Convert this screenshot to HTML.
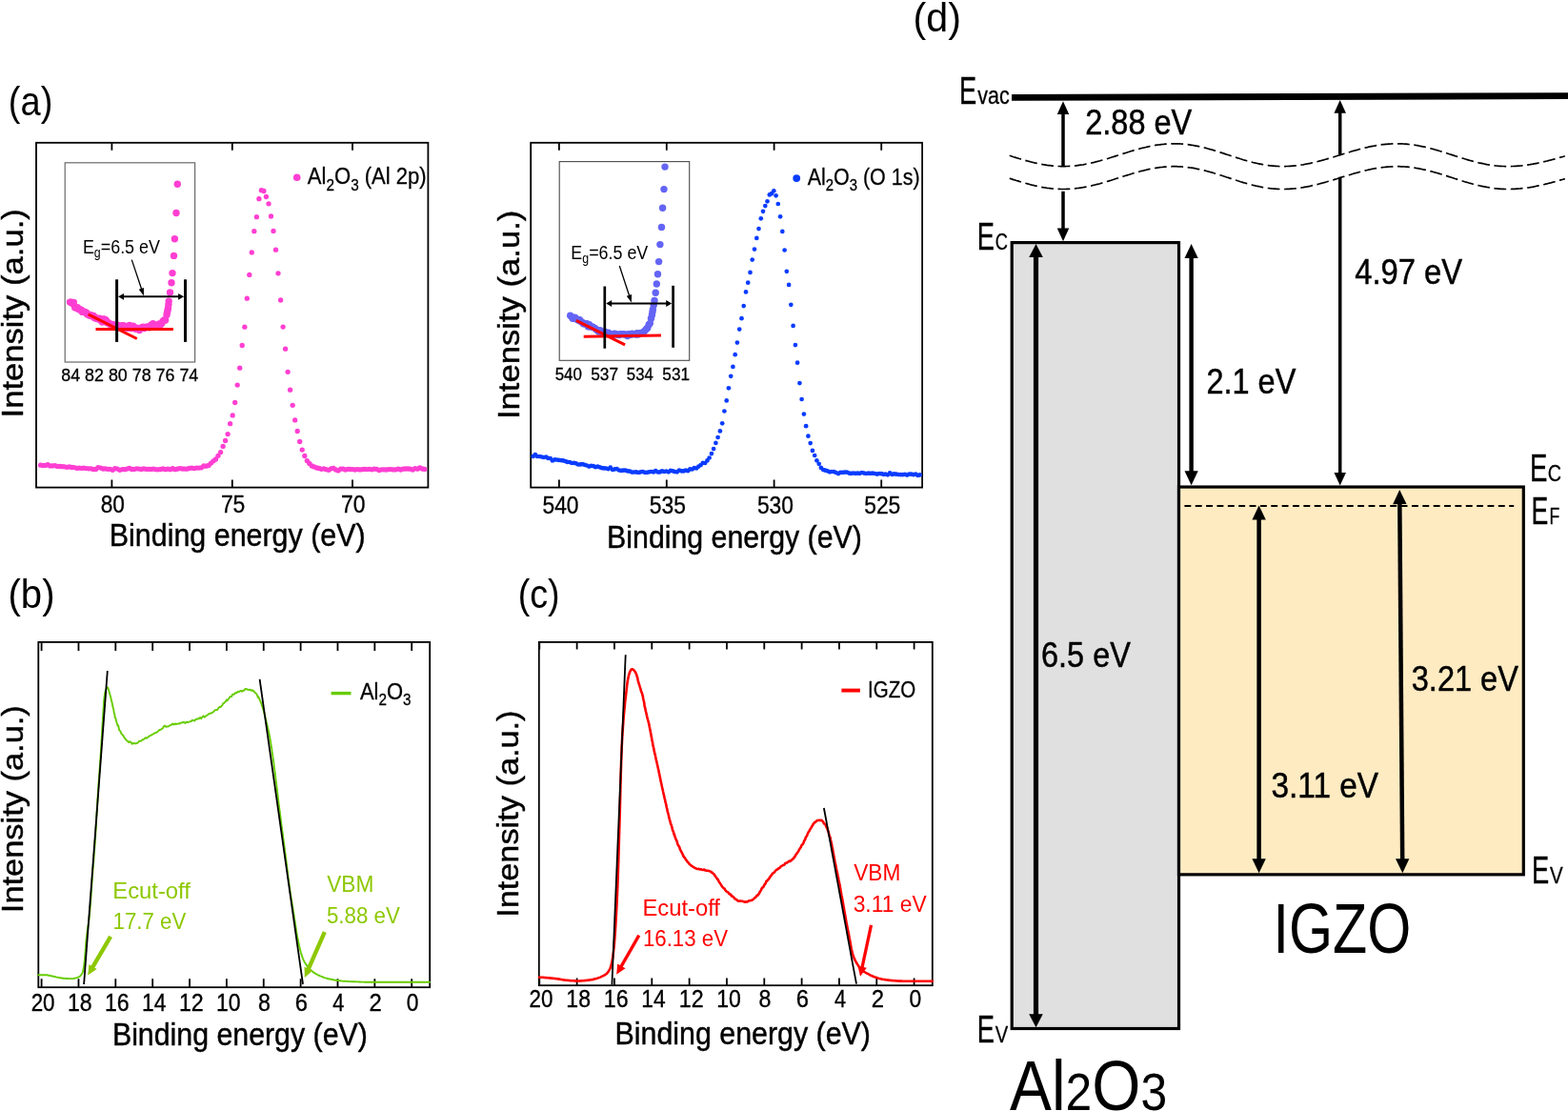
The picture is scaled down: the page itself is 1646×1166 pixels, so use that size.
<!DOCTYPE html>
<html lang="en">
<head>
<meta charset="utf-8">
<title>XPS, UPS and band alignment of Al2O3 / IGZO</title>
<style>html,body{margin:0;padding:0;background:#fff;overflow:hidden}svg{display:block}</style>
</head>
<body>
<svg width="1646" height="1166" viewBox="0 0 1646 1166" role="img" aria-label="XPS and UPS spectra with band alignment diagram" font-family="'Liberation Sans', sans-serif" style="display:block">
<rect width="1646" height="1166" fill="#fff"/>
<rect x="38.00" y="149.80" width="411.40" height="361.80" fill="none" stroke="#000" stroke-width="1.8"/>
<path d="M117.40 149.80v8M117.40 511.60v-8M243.80 149.80v8M243.80 511.60v-8M370.00 149.80v8M370.00 511.60v-8" stroke="#000" stroke-width="1.8" fill="none"/>
<g fill="#ff3fd2"><circle cx="42.6" cy="488.2" r="2.65"/><circle cx="45.1" cy="488.5" r="2.65"/><circle cx="47.6" cy="488.4" r="2.65"/><circle cx="50.1" cy="487.7" r="2.65"/><circle cx="52.6" cy="488.9" r="2.65"/><circle cx="55.2" cy="488.9" r="2.65"/><circle cx="57.7" cy="488.6" r="2.65"/><circle cx="60.2" cy="489.4" r="2.65"/><circle cx="62.7" cy="489.5" r="2.65"/><circle cx="65.2" cy="489.7" r="2.65"/><circle cx="67.8" cy="489.8" r="2.65"/><circle cx="70.3" cy="490.3" r="2.65"/><circle cx="72.8" cy="489.9" r="2.65"/><circle cx="75.3" cy="490.5" r="2.65"/><circle cx="77.8" cy="490.6" r="2.65"/><circle cx="80.4" cy="491.3" r="2.65"/><circle cx="82.9" cy="491.2" r="2.65"/><circle cx="85.4" cy="491.3" r="2.65"/><circle cx="87.9" cy="491.2" r="2.65"/><circle cx="90.4" cy="491.6" r="2.65"/><circle cx="93.0" cy="491.8" r="2.65"/><circle cx="95.5" cy="491.8" r="2.65"/><circle cx="98.0" cy="492.6" r="2.65"/><circle cx="100.5" cy="492.5" r="2.65"/><circle cx="103.0" cy="490.7" r="2.65"/><circle cx="105.6" cy="491.1" r="2.65"/><circle cx="108.1" cy="492.0" r="2.65"/><circle cx="110.6" cy="491.9" r="2.65"/><circle cx="113.1" cy="492.3" r="2.65"/><circle cx="115.6" cy="492.3" r="2.65"/><circle cx="118.2" cy="493.3" r="2.65"/><circle cx="120.7" cy="491.7" r="2.65"/><circle cx="123.2" cy="492.1" r="2.65"/><circle cx="125.7" cy="493.3" r="2.65"/><circle cx="128.2" cy="492.6" r="2.65"/><circle cx="130.8" cy="492.7" r="2.65"/><circle cx="133.3" cy="492.1" r="2.65"/><circle cx="135.8" cy="491.5" r="2.65"/><circle cx="138.3" cy="492.5" r="2.65"/><circle cx="140.8" cy="492.4" r="2.65"/><circle cx="143.4" cy="491.8" r="2.65"/><circle cx="145.9" cy="492.1" r="2.65"/><circle cx="148.4" cy="492.4" r="2.65"/><circle cx="150.9" cy="491.9" r="2.65"/><circle cx="153.4" cy="492.3" r="2.65"/><circle cx="156.0" cy="492.4" r="2.65"/><circle cx="158.5" cy="492.4" r="2.65"/><circle cx="161.0" cy="492.1" r="2.65"/><circle cx="163.5" cy="492.7" r="2.65"/><circle cx="166.0" cy="492.8" r="2.65"/><circle cx="168.6" cy="492.5" r="2.65"/><circle cx="171.1" cy="491.9" r="2.65"/><circle cx="173.6" cy="492.7" r="2.65"/><circle cx="176.1" cy="492.1" r="2.65"/><circle cx="178.6" cy="492.7" r="2.65"/><circle cx="181.2" cy="491.7" r="2.65"/><circle cx="183.7" cy="492.7" r="2.65"/><circle cx="186.2" cy="492.2" r="2.65"/><circle cx="188.7" cy="491.6" r="2.65"/><circle cx="191.2" cy="492.0" r="2.65"/><circle cx="193.8" cy="492.1" r="2.65"/><circle cx="196.3" cy="492.2" r="2.65"/><circle cx="198.8" cy="491.4" r="2.65"/><circle cx="201.3" cy="491.2" r="2.65"/><circle cx="203.8" cy="491.6" r="2.65"/><circle cx="206.4" cy="491.1" r="2.65"/><circle cx="208.9" cy="491.1" r="2.65"/><circle cx="211.4" cy="490.8" r="2.65"/><circle cx="213.9" cy="489.0" r="2.65"/><circle cx="216.4" cy="489.2" r="2.65"/><circle cx="219.0" cy="488.5" r="2.65"/><circle cx="221.5" cy="486.1" r="2.65"/><circle cx="224.0" cy="483.8" r="2.65"/><circle cx="226.5" cy="482.0" r="2.65"/><circle cx="229.0" cy="478.3" r="2.65"/><circle cx="231.6" cy="474.6" r="2.65"/><circle cx="234.1" cy="468.4" r="2.65"/><circle cx="236.6" cy="462.5" r="2.65"/><circle cx="239.1" cy="455.6" r="2.65"/><circle cx="241.6" cy="444.7" r="2.65"/><circle cx="244.2" cy="435.9" r="2.65"/><circle cx="246.7" cy="422.5" r="2.65"/><circle cx="249.2" cy="404.1" r="2.65"/><circle cx="251.7" cy="386.2" r="2.65"/><circle cx="254.2" cy="362.5" r="2.65"/><circle cx="256.8" cy="343.2" r="2.65"/><circle cx="259.3" cy="313.2" r="2.65"/><circle cx="261.8" cy="288.4" r="2.65"/><circle cx="264.3" cy="264.9" r="2.65"/><circle cx="266.8" cy="242.7" r="2.65"/><circle cx="269.4" cy="227.7" r="2.65"/><circle cx="271.9" cy="208.7" r="2.65"/><circle cx="274.4" cy="199.7" r="2.65"/><circle cx="276.9" cy="200.5" r="2.65"/><circle cx="279.4" cy="206.5" r="2.65"/><circle cx="282.0" cy="213.8" r="2.65"/><circle cx="284.5" cy="227.0" r="2.65"/><circle cx="287.0" cy="242.4" r="2.65"/><circle cx="289.5" cy="262.2" r="2.65"/><circle cx="292.0" cy="286.8" r="2.65"/><circle cx="294.6" cy="315.0" r="2.65"/><circle cx="297.1" cy="343.1" r="2.65"/><circle cx="299.6" cy="366.2" r="2.65"/><circle cx="302.1" cy="390.3" r="2.65"/><circle cx="304.6" cy="409.2" r="2.65"/><circle cx="307.2" cy="425.3" r="2.65"/><circle cx="309.7" cy="440.9" r="2.65"/><circle cx="312.2" cy="452.5" r="2.65"/><circle cx="314.7" cy="463.5" r="2.65"/><circle cx="317.2" cy="472.1" r="2.65"/><circle cx="319.8" cy="478.5" r="2.65"/><circle cx="322.3" cy="483.6" r="2.65"/><circle cx="324.8" cy="486.4" r="2.65"/><circle cx="327.3" cy="488.9" r="2.65"/><circle cx="329.8" cy="489.9" r="2.65"/><circle cx="332.4" cy="491.0" r="2.65"/><circle cx="334.9" cy="491.5" r="2.65"/><circle cx="337.4" cy="492.3" r="2.65"/><circle cx="339.9" cy="491.8" r="2.65"/><circle cx="342.4" cy="492.7" r="2.65"/><circle cx="345.0" cy="493.3" r="2.65"/><circle cx="347.5" cy="491.8" r="2.65"/><circle cx="350.0" cy="491.4" r="2.65"/><circle cx="352.5" cy="492.9" r="2.65"/><circle cx="355.0" cy="493.9" r="2.65"/><circle cx="357.6" cy="492.2" r="2.65"/><circle cx="360.1" cy="492.1" r="2.65"/><circle cx="362.6" cy="493.0" r="2.65"/><circle cx="365.1" cy="492.3" r="2.65"/><circle cx="367.6" cy="492.5" r="2.65"/><circle cx="370.2" cy="492.6" r="2.65"/><circle cx="372.7" cy="493.0" r="2.65"/><circle cx="375.2" cy="492.6" r="2.65"/><circle cx="377.7" cy="492.9" r="2.65"/><circle cx="380.2" cy="492.7" r="2.65"/><circle cx="382.8" cy="492.4" r="2.65"/><circle cx="385.3" cy="492.6" r="2.65"/><circle cx="387.8" cy="492.3" r="2.65"/><circle cx="390.3" cy="492.8" r="2.65"/><circle cx="392.8" cy="492.2" r="2.65"/><circle cx="395.4" cy="492.3" r="2.65"/><circle cx="397.9" cy="493.5" r="2.65"/><circle cx="400.4" cy="492.8" r="2.65"/><circle cx="402.9" cy="492.8" r="2.65"/><circle cx="405.4" cy="493.0" r="2.65"/><circle cx="408.0" cy="492.6" r="2.65"/><circle cx="410.5" cy="492.6" r="2.65"/><circle cx="413.0" cy="492.9" r="2.65"/><circle cx="415.5" cy="492.8" r="2.65"/><circle cx="418.0" cy="492.1" r="2.65"/><circle cx="420.6" cy="493.0" r="2.65"/><circle cx="423.1" cy="492.2" r="2.65"/><circle cx="425.6" cy="492.0" r="2.65"/><circle cx="428.1" cy="492.0" r="2.65"/><circle cx="430.6" cy="492.2" r="2.65"/><circle cx="433.2" cy="493.1" r="2.65"/><circle cx="435.7" cy="491.6" r="2.65"/><circle cx="438.2" cy="492.2" r="2.65"/><circle cx="440.7" cy="491.0" r="2.65"/><circle cx="443.2" cy="492.0" r="2.65"/><circle cx="445.8" cy="492.4" r="2.65"/></g>
<g fill="#ff3fd2"><circle cx="311.7" cy="186.3" r="3.8"/></g>
<rect x="68.20" y="170.80" width="136.40" height="209.20" fill="none" stroke="#6a6a6a" stroke-width="1.2"/>
<g fill="#ff3fd2"><circle cx="73.5" cy="317.1" r="3.7"/><circle cx="74.8" cy="317.3" r="3.7"/><circle cx="76.1" cy="318.5" r="3.7"/><circle cx="77.4" cy="317.5" r="3.7"/><circle cx="78.7" cy="322.8" r="3.7"/><circle cx="80.0" cy="323.1" r="3.7"/><circle cx="81.3" cy="322.6" r="3.7"/><circle cx="82.6" cy="324.6" r="3.7"/><circle cx="83.9" cy="325.0" r="3.7"/><circle cx="85.2" cy="325.1" r="3.7"/><circle cx="86.5" cy="327.4" r="3.7"/><circle cx="87.8" cy="326.9" r="3.7"/><circle cx="89.1" cy="327.7" r="3.7"/><circle cx="90.4" cy="327.9" r="3.7"/><circle cx="91.7" cy="329.9" r="3.7"/><circle cx="93.0" cy="330.0" r="3.7"/><circle cx="94.3" cy="331.2" r="3.7"/><circle cx="95.6" cy="330.7" r="3.7"/><circle cx="96.9" cy="332.0" r="3.7"/><circle cx="98.2" cy="331.5" r="3.7"/><circle cx="99.5" cy="333.8" r="3.7"/><circle cx="100.8" cy="333.7" r="3.7"/><circle cx="102.1" cy="334.4" r="3.7"/><circle cx="103.4" cy="335.0" r="3.7"/><circle cx="104.7" cy="334.1" r="3.7"/><circle cx="106.0" cy="336.3" r="3.7"/><circle cx="107.3" cy="338.1" r="3.7"/><circle cx="108.6" cy="334.9" r="3.7"/><circle cx="109.9" cy="335.2" r="3.7"/><circle cx="111.2" cy="336.0" r="3.7"/><circle cx="112.5" cy="338.8" r="3.7"/><circle cx="113.8" cy="338.6" r="3.7"/><circle cx="115.1" cy="340.1" r="3.7"/><circle cx="116.4" cy="340.4" r="3.7"/><circle cx="117.7" cy="340.5" r="3.7"/><circle cx="119.0" cy="341.1" r="3.7"/><circle cx="120.3" cy="341.2" r="3.7"/><circle cx="121.6" cy="342.6" r="3.7"/><circle cx="122.9" cy="340.9" r="3.7"/><circle cx="124.2" cy="341.8" r="3.7"/><circle cx="125.5" cy="342.6" r="3.7"/><circle cx="126.8" cy="344.3" r="3.7"/><circle cx="128.1" cy="341.8" r="3.7"/><circle cx="129.4" cy="341.6" r="3.7"/><circle cx="130.7" cy="342.2" r="3.7"/><circle cx="132.0" cy="343.9" r="3.7"/><circle cx="133.3" cy="342.8" r="3.7"/><circle cx="134.6" cy="344.4" r="3.7"/><circle cx="135.9" cy="341.4" r="3.7"/><circle cx="137.2" cy="344.5" r="3.7"/><circle cx="138.5" cy="344.6" r="3.7"/><circle cx="139.8" cy="342.3" r="3.7"/><circle cx="141.1" cy="344.0" r="3.7"/><circle cx="142.4" cy="345.2" r="3.7"/><circle cx="143.7" cy="344.2" r="3.7"/><circle cx="145.0" cy="345.2" r="3.7"/><circle cx="146.3" cy="346.6" r="3.7"/><circle cx="147.6" cy="344.5" r="3.7"/><circle cx="148.9" cy="343.8" r="3.7"/><circle cx="150.2" cy="343.2" r="3.7"/><circle cx="151.5" cy="344.5" r="3.7"/><circle cx="152.8" cy="343.5" r="3.7"/><circle cx="154.1" cy="343.3" r="3.7"/><circle cx="155.4" cy="343.1" r="3.7"/><circle cx="156.7" cy="343.7" r="3.7"/><circle cx="158.0" cy="341.7" r="3.7"/><circle cx="159.3" cy="341.0" r="3.7"/><circle cx="160.6" cy="339.7" r="3.7"/><circle cx="161.9" cy="343.1" r="3.7"/><circle cx="163.2" cy="341.6" r="3.7"/><circle cx="164.5" cy="342.8" r="3.7"/><circle cx="165.8" cy="341.1" r="3.7"/><circle cx="167.1" cy="340.0" r="3.7"/><circle cx="168.4" cy="340.8" r="3.7"/><circle cx="169.7" cy="339.6" r="3.7"/><circle cx="171.0" cy="337.3" r="3.7"/><circle cx="172.3" cy="336.0" r="3.7"/><circle cx="173.6" cy="336.0" r="3.7"/></g>
<g fill="#ff3fd2"><circle cx="175.0" cy="330.5" r="3.7"/><circle cx="175.5" cy="328.1" r="3.7"/><circle cx="176.0" cy="325.8" r="3.7"/><circle cx="176.5" cy="323.4" r="3.7"/><circle cx="176.9" cy="319.8" r="3.7"/><circle cx="177.2" cy="316.1" r="3.7"/><circle cx="178.5" cy="307.0" r="3.7"/><circle cx="180.0" cy="296.7" r="3.7"/><circle cx="181.0" cy="286.6" r="3.7"/><circle cx="182.5" cy="268.4" r="3.7"/><circle cx="183.4" cy="250.7" r="3.7"/><circle cx="185.0" cy="223.5" r="3.7"/><circle cx="186.3" cy="193.3" r="3.7"/></g>
<line x1="100.50" y1="345.50" x2="181.90" y2="345.50" stroke="#ff0000" stroke-width="3" />
<line x1="92.60" y1="329.90" x2="143.80" y2="355.50" stroke="#ff0000" stroke-width="3" />
<line x1="122.60" y1="293.30" x2="122.60" y2="358.90" stroke="#000" stroke-width="3" />
<line x1="194.50" y1="293.30" x2="194.50" y2="358.90" stroke="#000" stroke-width="3" />
<line x1="128.80" y1="311.30" x2="188.30" y2="311.30" stroke="#000" stroke-width="1.9" /><polygon points="193.10,311.30 187.10,314.70 187.10,307.90" fill="#000"/><polygon points="124.00,311.30 130.00,307.90 130.00,314.70" fill="#000"/>
<line x1="138.30" y1="272.60" x2="148.88" y2="304.33" stroke="#000" stroke-width="1.3" /><polygon points="150.90,310.40 145.76,303.68 150.98,301.94" fill="#000"/>
<rect x="557.20" y="149.80" width="410.90" height="361.80" fill="none" stroke="#000" stroke-width="1.8"/>
<path d="M586.90 149.80v8M586.90 511.60v-8M699.80 149.80v8M699.80 511.60v-8M812.60 149.80v8M812.60 511.60v-8M925.20 149.80v8M925.20 511.60v-8" stroke="#000" stroke-width="1.8" fill="none"/>
<g fill="#0a3cff"><circle cx="559.6" cy="478.9" r="2.35"/><circle cx="561.9" cy="477.1" r="2.35"/><circle cx="564.1" cy="479.0" r="2.35"/><circle cx="566.4" cy="479.0" r="2.35"/><circle cx="568.7" cy="479.5" r="2.35"/><circle cx="570.9" cy="480.0" r="2.35"/><circle cx="573.2" cy="479.5" r="2.35"/><circle cx="575.4" cy="480.9" r="2.35"/><circle cx="577.7" cy="481.0" r="2.35"/><circle cx="579.9" cy="483.5" r="2.35"/><circle cx="582.2" cy="482.4" r="2.35"/><circle cx="584.4" cy="482.5" r="2.35"/><circle cx="586.7" cy="482.9" r="2.35"/><circle cx="589.0" cy="483.1" r="2.35"/><circle cx="591.2" cy="483.4" r="2.35"/><circle cx="593.5" cy="484.1" r="2.35"/><circle cx="595.7" cy="484.9" r="2.35"/><circle cx="598.0" cy="485.0" r="2.35"/><circle cx="600.2" cy="486.0" r="2.35"/><circle cx="602.5" cy="485.8" r="2.35"/><circle cx="604.7" cy="486.3" r="2.35"/><circle cx="607.0" cy="487.5" r="2.35"/><circle cx="609.3" cy="487.4" r="2.35"/><circle cx="611.5" cy="487.2" r="2.35"/><circle cx="613.8" cy="487.8" r="2.35"/><circle cx="616.0" cy="488.5" r="2.35"/><circle cx="618.3" cy="489.6" r="2.35"/><circle cx="620.5" cy="488.8" r="2.35"/><circle cx="622.8" cy="489.2" r="2.35"/><circle cx="625.1" cy="490.2" r="2.35"/><circle cx="627.3" cy="489.6" r="2.35"/><circle cx="629.6" cy="490.3" r="2.35"/><circle cx="631.8" cy="491.2" r="2.35"/><circle cx="634.1" cy="491.4" r="2.35"/><circle cx="636.3" cy="491.5" r="2.35"/><circle cx="638.6" cy="492.2" r="2.35"/><circle cx="640.8" cy="490.7" r="2.35"/><circle cx="643.1" cy="493.0" r="2.35"/><circle cx="645.4" cy="492.3" r="2.35"/><circle cx="647.6" cy="492.2" r="2.35"/><circle cx="649.9" cy="493.5" r="2.35"/><circle cx="652.1" cy="493.9" r="2.35"/><circle cx="654.4" cy="493.6" r="2.35"/><circle cx="656.6" cy="493.6" r="2.35"/><circle cx="658.9" cy="494.4" r="2.35"/><circle cx="661.1" cy="494.6" r="2.35"/><circle cx="663.4" cy="495.6" r="2.35"/><circle cx="665.7" cy="495.5" r="2.35"/><circle cx="667.9" cy="495.4" r="2.35"/><circle cx="670.2" cy="496.0" r="2.35"/><circle cx="672.4" cy="495.4" r="2.35"/><circle cx="674.7" cy="495.0" r="2.35"/><circle cx="676.9" cy="495.8" r="2.35"/><circle cx="679.2" cy="495.8" r="2.35"/><circle cx="681.5" cy="495.3" r="2.35"/><circle cx="683.7" cy="495.0" r="2.35"/><circle cx="686.0" cy="495.4" r="2.35"/><circle cx="688.2" cy="494.0" r="2.35"/><circle cx="690.5" cy="495.5" r="2.35"/><circle cx="692.7" cy="495.4" r="2.35"/><circle cx="695.0" cy="494.3" r="2.35"/><circle cx="697.2" cy="495.0" r="2.35"/><circle cx="699.5" cy="494.5" r="2.35"/><circle cx="701.8" cy="495.3" r="2.35"/><circle cx="704.0" cy="493.9" r="2.35"/><circle cx="706.3" cy="494.4" r="2.35"/><circle cx="708.5" cy="495.1" r="2.35"/><circle cx="710.8" cy="495.3" r="2.35"/><circle cx="713.0" cy="493.6" r="2.35"/><circle cx="715.3" cy="494.3" r="2.35"/><circle cx="717.5" cy="494.4" r="2.35"/><circle cx="719.8" cy="493.6" r="2.35"/><circle cx="722.1" cy="494.2" r="2.35"/><circle cx="724.3" cy="492.3" r="2.35"/><circle cx="726.6" cy="492.5" r="2.35"/><circle cx="728.8" cy="491.1" r="2.35"/><circle cx="731.1" cy="491.5" r="2.35"/><circle cx="733.3" cy="489.6" r="2.35"/><circle cx="735.6" cy="488.1" r="2.35"/><circle cx="737.9" cy="485.9" r="2.35"/><circle cx="740.1" cy="486.0" r="2.35"/><circle cx="742.4" cy="483.4" r="2.35"/><circle cx="744.6" cy="480.5" r="2.35"/><circle cx="746.9" cy="476.1" r="2.35"/><circle cx="749.1" cy="471.1" r="2.35"/><circle cx="751.4" cy="464.9" r="2.35"/><circle cx="753.6" cy="459.0" r="2.35"/><circle cx="755.9" cy="452.4" r="2.35"/><circle cx="758.2" cy="444.3" r="2.35"/><circle cx="760.4" cy="431.5" r="2.35"/><circle cx="762.7" cy="420.4" r="2.35"/><circle cx="764.9" cy="407.3" r="2.35"/><circle cx="767.2" cy="394.8" r="2.35"/><circle cx="769.4" cy="384.9" r="2.35"/><circle cx="771.7" cy="372.2" r="2.35"/><circle cx="773.9" cy="359.6" r="2.35"/><circle cx="776.2" cy="345.6" r="2.35"/><circle cx="778.5" cy="334.2" r="2.35"/><circle cx="780.7" cy="321.1" r="2.35"/><circle cx="783.0" cy="306.4" r="2.35"/><circle cx="785.2" cy="296.7" r="2.35"/><circle cx="787.5" cy="285.9" r="2.35"/><circle cx="789.7" cy="272.6" r="2.35"/><circle cx="792.0" cy="261.6" r="2.35"/><circle cx="794.3" cy="249.9" r="2.35"/><circle cx="796.5" cy="240.1" r="2.35"/><circle cx="798.8" cy="229.3" r="2.35"/><circle cx="801.0" cy="221.8" r="2.35"/><circle cx="803.3" cy="216.1" r="2.35"/><circle cx="805.5" cy="211.3" r="2.35"/><circle cx="807.8" cy="204.4" r="2.35"/><circle cx="810.0" cy="203.2" r="2.35"/><circle cx="812.3" cy="200.3" r="2.35"/><circle cx="814.6" cy="205.3" r="2.35"/><circle cx="816.8" cy="214.0" r="2.35"/><circle cx="819.1" cy="227.3" r="2.35"/><circle cx="821.3" cy="242.9" r="2.35"/><circle cx="823.6" cy="262.5" r="2.35"/><circle cx="825.8" cy="284.8" r="2.35"/><circle cx="828.1" cy="298.9" r="2.35"/><circle cx="830.3" cy="319.8" r="2.35"/><circle cx="832.6" cy="341.9" r="2.35"/><circle cx="834.9" cy="362.1" r="2.35"/><circle cx="837.1" cy="380.7" r="2.35"/><circle cx="839.4" cy="402.1" r="2.35"/><circle cx="841.6" cy="419.0" r="2.35"/><circle cx="843.9" cy="434.6" r="2.35"/><circle cx="846.1" cy="447.2" r="2.35"/><circle cx="848.4" cy="457.7" r="2.35"/><circle cx="850.7" cy="465.1" r="2.35"/><circle cx="852.9" cy="472.9" r="2.35"/><circle cx="855.2" cy="478.0" r="2.35"/><circle cx="857.4" cy="483.3" r="2.35"/><circle cx="859.7" cy="486.8" r="2.35"/><circle cx="861.9" cy="490.9" r="2.35"/><circle cx="864.2" cy="493.0" r="2.35"/><circle cx="866.4" cy="493.7" r="2.35"/><circle cx="868.7" cy="494.3" r="2.35"/><circle cx="871.0" cy="495.3" r="2.35"/><circle cx="873.2" cy="495.0" r="2.35"/><circle cx="875.5" cy="495.1" r="2.35"/><circle cx="877.7" cy="496.0" r="2.35"/><circle cx="880.0" cy="497.1" r="2.35"/><circle cx="882.2" cy="495.9" r="2.35"/><circle cx="884.5" cy="495.8" r="2.35"/><circle cx="886.7" cy="495.6" r="2.35"/><circle cx="889.0" cy="495.6" r="2.35"/><circle cx="891.3" cy="496.6" r="2.35"/><circle cx="893.5" cy="496.9" r="2.35"/><circle cx="895.8" cy="496.5" r="2.35"/><circle cx="898.0" cy="496.8" r="2.35"/><circle cx="900.3" cy="496.7" r="2.35"/><circle cx="902.5" cy="496.8" r="2.35"/><circle cx="904.8" cy="496.0" r="2.35"/><circle cx="907.1" cy="496.6" r="2.35"/><circle cx="909.3" cy="497.0" r="2.35"/><circle cx="911.6" cy="496.6" r="2.35"/><circle cx="913.8" cy="496.8" r="2.35"/><circle cx="916.1" cy="496.7" r="2.35"/><circle cx="918.3" cy="497.0" r="2.35"/><circle cx="920.6" cy="497.6" r="2.35"/><circle cx="922.8" cy="497.1" r="2.35"/><circle cx="925.1" cy="497.2" r="2.35"/><circle cx="927.4" cy="497.8" r="2.35"/><circle cx="929.6" cy="497.7" r="2.35"/><circle cx="931.9" cy="498.3" r="2.35"/><circle cx="934.1" cy="496.4" r="2.35"/><circle cx="936.4" cy="497.9" r="2.35"/><circle cx="938.6" cy="497.3" r="2.35"/><circle cx="940.9" cy="497.7" r="2.35"/><circle cx="943.1" cy="498.0" r="2.35"/><circle cx="945.4" cy="498.2" r="2.35"/><circle cx="947.7" cy="498.2" r="2.35"/><circle cx="949.9" cy="497.8" r="2.35"/><circle cx="952.2" cy="498.6" r="2.35"/><circle cx="954.4" cy="497.6" r="2.35"/><circle cx="956.7" cy="497.7" r="2.35"/><circle cx="958.9" cy="498.2" r="2.35"/><circle cx="961.2" cy="497.6" r="2.35"/><circle cx="963.5" cy="498.9" r="2.35"/><circle cx="965.7" cy="498.4" r="2.35"/></g>
<g fill="#0a3cff"><circle cx="836.2" cy="187.1" r="3.9"/></g>
<rect x="587.20" y="169.60" width="136.50" height="208.70" fill="none" stroke="#4a4a4a" stroke-width="1.1"/>
<g fill="#6464f5"><circle cx="598.6" cy="331.2" r="3.6"/><circle cx="599.9" cy="332.3" r="3.6"/><circle cx="601.1" cy="334.3" r="3.6"/><circle cx="602.4" cy="334.2" r="3.6"/><circle cx="603.6" cy="333.2" r="3.6"/><circle cx="604.9" cy="335.0" r="3.6"/><circle cx="606.1" cy="335.2" r="3.6"/><circle cx="607.4" cy="336.3" r="3.6"/><circle cx="608.6" cy="335.7" r="3.6"/><circle cx="609.9" cy="337.6" r="3.6"/><circle cx="611.1" cy="338.2" r="3.6"/><circle cx="612.4" cy="339.8" r="3.6"/><circle cx="613.6" cy="339.5" r="3.6"/><circle cx="614.9" cy="340.3" r="3.6"/><circle cx="616.1" cy="339.5" r="3.6"/><circle cx="617.4" cy="342.8" r="3.6"/><circle cx="618.6" cy="340.5" r="3.6"/><circle cx="619.9" cy="343.2" r="3.6"/><circle cx="621.1" cy="342.8" r="3.6"/><circle cx="622.4" cy="343.1" r="3.6"/><circle cx="623.6" cy="344.0" r="3.6"/><circle cx="624.9" cy="344.7" r="3.6"/><circle cx="626.1" cy="346.1" r="3.6"/><circle cx="627.4" cy="346.5" r="3.6"/><circle cx="628.6" cy="348.2" r="3.6"/><circle cx="629.9" cy="346.5" r="3.6"/><circle cx="631.1" cy="348.3" r="3.6"/><circle cx="632.4" cy="348.2" r="3.6"/><circle cx="633.6" cy="349.7" r="3.6"/><circle cx="634.9" cy="348.0" r="3.6"/><circle cx="636.1" cy="349.4" r="3.6"/><circle cx="637.4" cy="350.0" r="3.6"/><circle cx="638.6" cy="349.1" r="3.6"/><circle cx="639.9" cy="351.0" r="3.6"/><circle cx="641.1" cy="350.6" r="3.6"/><circle cx="642.4" cy="351.3" r="3.6"/><circle cx="643.6" cy="351.4" r="3.6"/><circle cx="644.9" cy="350.1" r="3.6"/><circle cx="646.1" cy="350.3" r="3.6"/><circle cx="647.4" cy="350.8" r="3.6"/><circle cx="648.6" cy="351.5" r="3.6"/><circle cx="649.9" cy="351.7" r="3.6"/><circle cx="651.1" cy="350.6" r="3.6"/><circle cx="652.4" cy="350.7" r="3.6"/><circle cx="653.6" cy="350.6" r="3.6"/><circle cx="654.9" cy="350.8" r="3.6"/><circle cx="656.1" cy="351.0" r="3.6"/><circle cx="657.4" cy="351.1" r="3.6"/><circle cx="658.6" cy="352.6" r="3.6"/><circle cx="659.9" cy="350.7" r="3.6"/><circle cx="661.1" cy="350.8" r="3.6"/><circle cx="662.4" cy="351.3" r="3.6"/><circle cx="663.6" cy="350.2" r="3.6"/><circle cx="664.9" cy="350.6" r="3.6"/><circle cx="666.1" cy="350.7" r="3.6"/><circle cx="667.4" cy="351.1" r="3.6"/><circle cx="668.6" cy="349.5" r="3.6"/><circle cx="669.9" cy="351.2" r="3.6"/><circle cx="671.1" cy="349.7" r="3.6"/><circle cx="672.4" cy="349.6" r="3.6"/><circle cx="673.6" cy="349.5" r="3.6"/><circle cx="674.9" cy="348.6" r="3.6"/><circle cx="676.1" cy="348.0" r="3.6"/><circle cx="677.4" cy="346.5" r="3.6"/><circle cx="678.6" cy="345.2" r="3.6"/><circle cx="679.9" cy="343.9" r="3.6"/><circle cx="681.1" cy="340.7" r="3.6"/><circle cx="682.4" cy="339.3" r="3.6"/></g>
<g fill="#6464f5"><circle cx="683.5" cy="334.2" r="3.7"/><circle cx="684.4" cy="330.8" r="3.7"/><circle cx="684.9" cy="327.8" r="3.7"/><circle cx="685.3" cy="324.9" r="3.7"/><circle cx="686.2" cy="320.2" r="3.7"/><circle cx="687.0" cy="315.5" r="3.7"/><circle cx="688.2" cy="307.3" r="3.7"/><circle cx="689.3" cy="298.0" r="3.7"/><circle cx="690.5" cy="287.7" r="3.7"/><circle cx="691.6" cy="274.6" r="3.7"/><circle cx="692.9" cy="256.6" r="3.7"/><circle cx="694.5" cy="238.4" r="3.7"/><circle cx="695.6" cy="218.3" r="3.7"/><circle cx="697.0" cy="198.6" r="3.7"/><circle cx="698.0" cy="175.1" r="3.7"/></g>
<line x1="612.70" y1="353.20" x2="694.00" y2="352.10" stroke="#ff0000" stroke-width="3" />
<line x1="604.80" y1="336.30" x2="656.10" y2="361.90" stroke="#ff0000" stroke-width="3" />
<line x1="634.80" y1="300.50" x2="634.80" y2="365.70" stroke="#000" stroke-width="2.7" />
<line x1="706.60" y1="299.80" x2="706.60" y2="364.80" stroke="#000" stroke-width="2.7" />
<line x1="641.00" y1="318.50" x2="700.40" y2="318.50" stroke="#000" stroke-width="1.9" /><polygon points="705.20,318.50 699.20,321.90 699.20,315.10" fill="#000"/><polygon points="636.20,318.50 642.20,315.10 642.20,321.90" fill="#000"/>
<line x1="650.30" y1="279.00" x2="660.90" y2="311.32" stroke="#000" stroke-width="1.3" /><polygon points="662.90,317.40 657.79,310.66 663.02,308.94" fill="#000"/>
<rect x="40.30" y="673.90" width="410.90" height="362.30" fill="none" stroke="#000" stroke-width="1.8"/>
<path d="M43.60 673.90v9M43.60 1036.20v-9M82.46 673.90v9M82.46 1036.20v-9M121.32 673.90v9M121.32 1036.20v-9M160.18 673.90v9M160.18 1036.20v-9M199.04 673.90v9M199.04 1036.20v-9M237.90 673.90v9M237.90 1036.20v-9M276.76 673.90v9M276.76 1036.20v-9M315.62 673.90v9M315.62 1036.20v-9M354.48 673.90v9M354.48 1036.20v-9M393.34 673.90v9M393.34 1036.20v-9M432.20 673.90v9M432.20 1036.20v-9" stroke="#000" stroke-width="1.8" fill="none"/>
<polyline points="40.3,1023.2 41.5,1023.2 42.8,1023.2 44.0,1023.2 45.3,1023.2 46.5,1023.2 47.7,1023.2 48.9,1023.3 50.2,1023.5 51.4,1023.7 52.6,1024.0 53.8,1024.3 55.0,1024.5 56.2,1024.8 57.4,1025.0 58.6,1025.3 59.9,1025.6 61.1,1025.9 62.3,1026.2 63.5,1026.3 64.7,1026.5 65.9,1026.7 67.2,1026.8 68.4,1026.9 69.6,1027.0 70.9,1027.0 72.1,1027.1 73.3,1027.1 74.6,1027.1 75.8,1027.1 77.0,1027.0 78.3,1026.8 79.5,1026.4 80.7,1026.1 81.9,1025.7 83.0,1025.2 84.0,1024.6 84.8,1023.7 85.6,1022.7 86.3,1021.5 86.8,1020.4 87.1,1019.3 87.4,1018.1 87.6,1016.9 87.8,1015.7 88.0,1014.4 88.2,1013.2 88.3,1011.9 88.5,1010.7 88.6,1009.4 88.8,1008.2 88.9,1007.0 89.0,1005.8 89.1,1004.5 89.2,1003.3 89.3,1002.1 89.4,1000.8 89.5,999.6 89.6,998.4 89.7,997.1 89.8,995.9 89.9,994.7 90.0,993.4 90.1,992.2 90.2,990.9 90.2,989.7 90.4,988.5 90.5,987.2 90.6,986.0 90.7,984.8 90.8,983.6 91.0,982.3 91.1,981.1 91.3,979.9 91.4,978.7 91.6,977.4 91.8,976.2 91.9,975.0 92.1,973.8 92.3,972.5 92.5,971.3 92.7,970.1 92.9,968.9 93.0,967.6 93.2,966.4 93.4,965.2 93.5,964.0 93.7,962.7 93.8,961.5 94.0,960.3 94.1,959.0 94.2,957.8 94.3,956.6 94.4,955.4 94.5,954.1 94.6,952.9 94.7,951.7 94.8,950.4 94.9,949.2 95.0,948.0 95.1,946.7 95.2,945.5 95.3,944.3 95.4,943.0 95.5,941.8 95.6,940.6 95.7,939.3 95.7,938.1 95.8,936.9 95.9,935.6 96.0,934.4 96.1,933.2 96.2,931.9 96.2,930.7 96.3,929.5 96.4,928.2 96.5,927.0 96.6,925.8 96.7,924.5 96.8,923.3 96.8,922.1 96.9,920.8 97.0,919.6 97.1,918.4 97.2,917.1 97.3,915.9 97.4,914.7 97.5,913.4 97.6,912.2 97.7,911.0 97.8,909.7 97.9,908.5 98.0,907.3 98.1,906.0 98.2,904.8 98.3,903.6 98.4,902.3 98.5,901.1 98.6,899.9 98.6,898.6 98.7,897.4 98.8,896.2 98.9,894.9 99.0,893.7 99.1,892.5 99.2,891.2 99.3,890.0 99.4,888.8 99.5,887.5 99.6,886.3 99.7,885.1 99.7,883.8 99.8,882.6 99.9,881.4 100.0,880.1 100.1,878.9 100.2,877.7 100.2,876.4 100.3,875.2 100.4,874.0 100.5,872.7 100.5,871.5 100.6,870.3 100.7,869.0 100.8,867.8 100.8,866.6 100.9,865.3 101.0,864.1 101.1,862.9 101.1,861.6 101.2,860.4 101.3,859.2 101.3,857.9 101.4,856.7 101.5,855.4 101.6,854.2 101.6,853.0 101.7,851.7 101.8,850.5 101.8,849.3 101.9,848.0 102.0,846.8 102.1,845.6 102.1,844.3 102.2,843.1 102.3,841.9 102.3,840.6 102.4,839.4 102.5,838.2 102.6,836.9 102.6,835.7 102.7,834.5 102.8,833.2 102.9,832.0 103.0,830.8 103.0,829.5 103.1,828.3 103.2,827.1 103.3,825.8 103.4,824.6 103.4,823.4 103.5,822.1 103.6,820.9 103.7,819.7 103.8,818.4 103.9,817.2 104.0,816.0 104.1,814.7 104.1,813.5 104.2,812.3 104.3,811.0 104.4,809.8 104.5,808.6 104.6,807.3 104.7,806.1 104.8,804.9 104.9,803.6 105.0,802.4 105.0,801.2 105.1,799.9 105.2,798.7 105.3,797.5 105.4,796.2 105.5,795.0 105.6,793.8 105.6,792.5 105.7,791.3 105.8,790.1 105.9,788.8 106.0,787.6 106.0,786.4 106.1,785.1 106.2,783.9 106.3,782.7 106.3,781.4 106.4,780.2 106.5,778.9 106.5,777.7 106.6,776.5 106.7,775.2 106.8,774.0 106.8,772.8 106.9,771.5 107.0,770.3 107.0,769.1 107.1,767.8 107.2,766.6 107.3,765.4 107.3,764.1 107.4,762.9 107.5,761.7 107.5,760.4 107.6,759.2 107.7,758.0 107.8,756.7 107.8,755.5 107.9,754.3 108.0,753.0 108.1,751.8 108.2,750.6 108.2,749.3 108.3,748.1 108.4,746.9 108.5,745.6 108.5,744.4 108.6,743.1 108.7,741.9 108.8,740.7 108.9,739.4 108.9,738.2 109.0,737.0 109.1,735.7 109.2,734.5 109.4,733.3 109.5,732.1 109.6,730.8 109.8,729.6 110.0,728.4 110.2,727.1 110.5,725.9 110.8,724.7 111.2,723.6 111.9,722.2 112.6,721.3 113.1,721.6 113.6,722.7 114.1,724.2 114.5,725.6 114.9,726.8 115.2,728.0 115.5,729.2 115.9,730.4 116.2,731.6 116.4,732.8 116.7,734.0 117.0,735.2 117.3,736.4 117.6,737.6 117.9,738.8 118.1,740.6 118.4,740.6 118.7,743.1 118.9,743.6 119.2,744.4 119.4,745.7 119.7,747.5 120.0,749.0 120.3,749.6 120.5,751.5 120.8,753.4 121.1,753.2 121.3,753.8 121.6,755.1 121.9,756.1 122.3,757.7 122.6,758.8 123.0,759.6 123.5,761.9 124.0,761.1 124.5,763.0 125.1,766.1 125.7,766.7 126.3,767.4 126.9,768.5 127.5,770.3 128.2,770.6 128.8,771.5 129.4,771.8 130.1,773.7 130.8,774.4 131.5,775.4 132.3,776.3 133.2,777.4 134.1,777.8 135.2,779.1 136.4,778.3 137.7,779.3 138.9,780.8 140.2,779.8 141.4,780.4 142.6,780.2 143.8,780.0 145.0,779.2 146.2,777.6 147.4,777.8 148.5,777.3 149.6,776.1 150.7,776.2 151.8,775.1 152.9,774.2 154.0,774.8 155.0,774.0 156.1,773.0 157.2,772.2 158.2,771.8 159.3,771.2 160.3,770.6 161.4,770.1 162.5,769.3 163.5,769.1 164.6,768.6 165.6,767.8 166.7,766.6 167.7,765.9 168.8,765.9 169.8,764.8 170.9,764.3 171.9,762.2 173.0,761.5 174.1,762.8 175.3,762.4 176.5,762.6 177.6,761.8 178.8,761.1 180.0,760.7 181.2,759.5 182.4,760.6 183.6,759.5 184.8,760.0 186.1,759.6 187.3,759.4 188.5,759.6 189.7,758.6 191.0,758.5 192.2,758.0 193.4,758.0 194.6,759.0 195.8,757.5 197.0,758.2 198.2,757.7 199.4,757.3 200.6,757.1 201.8,755.7 203.0,756.2 204.2,756.6 205.4,754.9 206.6,754.9 207.8,754.1 208.9,754.3 210.1,753.0 211.2,754.2 212.4,752.5 213.5,751.3 214.6,752.8 215.7,751.8 216.9,750.9 218.0,750.4 219.0,749.3 220.1,748.8 221.2,748.7 222.3,748.2 223.4,747.6 224.4,746.6 225.5,745.5 226.5,745.0 227.5,745.1 228.5,744.6 229.5,742.8 230.5,741.9 231.5,742.2 232.4,741.0 233.4,740.2 234.3,738.2 235.2,737.9 236.0,736.9 236.9,736.5 237.7,734.4 238.6,735.3 239.5,733.9 240.4,733.1 241.3,731.3 242.2,731.1 243.1,731.1 244.1,728.6 245.1,728.9 246.1,728.5 247.1,727.0 248.2,727.3 249.3,726.0 250.4,726.4 251.6,725.5 252.7,724.9 253.9,725.7 255.1,724.7 256.3,724.7 257.6,722.9 258.8,723.1 260.0,723.9 261.2,724.0 262.4,723.7 263.6,724.7 264.8,724.2 265.8,725.5 266.8,725.4 267.7,727.1 268.6,727.5 269.4,728.5 270.1,729.9 270.8,732.0 271.4,731.4 272.0,733.0 272.5,734.1 273.0,735.3 273.5,736.4 274.0,737.6 274.4,738.8 274.8,740.0 275.2,741.1 275.6,742.3 276.0,743.5 276.3,744.7 276.7,745.9 277.0,747.0 277.3,748.2 277.6,749.4 277.9,750.6 278.2,751.8 278.5,753.1 278.8,754.3 279.1,755.5 279.4,756.7 279.7,757.9 280.0,759.1 280.3,760.3 280.6,761.5 280.9,762.7 281.1,763.9 281.4,765.1 281.7,766.3 282.0,767.5 282.2,768.7 282.5,769.9 282.7,771.1 282.9,772.3 283.2,773.6 283.4,774.8 283.6,776.0 283.8,777.2 284.0,778.4 284.2,779.6 284.4,780.9 284.6,782.1 284.8,783.3 285.0,784.5 285.2,785.7 285.4,787.0 285.5,788.2 285.7,789.4 285.9,790.6 286.1,791.9 286.2,793.1 286.4,794.3 286.6,795.5 286.8,796.8 286.9,798.0 287.1,799.2 287.3,800.4 287.4,801.7 287.6,802.9 287.7,804.1 287.9,805.3 288.1,806.6 288.2,807.8 288.4,809.0 288.6,810.3 288.7,811.5 288.9,812.7 289.0,813.9 289.2,815.2 289.3,816.4 289.5,817.6 289.6,818.8 289.8,820.1 289.9,821.3 290.1,822.5 290.2,823.7 290.4,825.0 290.5,826.2 290.7,827.4 290.8,828.7 291.0,829.9 291.1,831.1 291.3,832.3 291.4,833.6 291.6,834.8 291.7,836.0 291.9,837.3 292.0,838.5 292.2,839.7 292.3,840.9 292.5,842.2 292.6,843.4 292.8,844.6 292.9,845.8 293.1,847.1 293.2,848.3 293.4,849.5 293.6,850.7 293.7,852.0 293.9,853.2 294.0,854.4 294.2,855.7 294.4,856.9 294.5,858.1 294.7,859.3 294.8,860.6 295.0,861.8 295.2,863.0 295.3,864.2 295.5,865.5 295.6,866.7 295.8,867.9 296.0,869.1 296.1,870.4 296.3,871.6 296.4,872.8 296.6,874.0 296.8,875.3 296.9,876.5 297.1,877.7 297.2,878.9 297.4,880.2 297.6,881.4 297.7,882.6 297.9,883.9 298.1,885.1 298.2,886.3 298.4,887.5 298.5,888.8 298.7,890.0 298.9,891.2 299.0,892.4 299.2,893.7 299.3,894.9 299.5,896.1 299.7,897.3 299.8,898.6 300.0,899.8 300.1,901.0 300.3,902.2 300.4,903.5 300.6,904.7 300.8,905.9 300.9,907.2 301.1,908.4 301.2,909.6 301.4,910.8 301.5,912.1 301.7,913.3 301.8,914.5 302.0,915.7 302.1,917.0 302.3,918.2 302.4,919.4 302.6,920.7 302.7,921.9 302.9,923.1 303.1,924.3 303.2,925.6 303.4,926.8 303.5,928.0 303.7,929.2 303.9,930.5 304.0,931.7 304.2,932.9 304.4,934.1 304.6,935.4 304.7,936.6 304.9,937.8 305.1,939.0 305.3,940.2 305.5,941.5 305.7,942.7 305.9,943.9 306.1,945.1 306.3,946.4 306.5,947.6 306.7,948.8 306.9,950.0 307.1,951.2 307.3,952.5 307.5,953.7 307.7,954.9 307.9,956.1 308.1,957.3 308.3,958.6 308.5,959.8 308.7,961.0 308.9,962.2 309.0,963.4 309.2,964.7 309.4,965.9 309.6,967.1 309.8,968.3 310.0,969.6 310.2,970.8 310.3,972.0 310.5,973.2 310.7,974.5 310.9,975.7 311.1,976.9 311.3,978.1 311.5,979.3 311.7,980.6 311.9,981.8 312.1,983.0 312.4,984.2 312.6,985.4 312.8,986.6 313.1,987.8 313.3,989.0 313.6,990.3 313.9,991.5 314.1,992.7 314.4,993.9 314.7,995.1 315.0,996.3 315.3,997.6 315.6,998.8 315.9,1000.0 316.3,1001.1 316.7,1002.3 317.0,1003.5 317.5,1004.6 317.9,1005.8 318.3,1006.9 318.9,1008.0 319.4,1009.1 320.0,1010.2 320.7,1011.3 321.4,1012.4 322.1,1013.4 322.8,1014.4 323.6,1015.4 324.4,1016.3 325.2,1017.1 326.1,1018.0 327.0,1018.8 328.0,1019.6 329.0,1020.4 330.1,1021.1 331.1,1021.8 332.2,1022.4 333.3,1023.0 334.3,1023.5 335.5,1024.0 336.6,1024.5 337.7,1025.0 338.9,1025.4 340.1,1025.9 341.3,1026.3 342.5,1026.6 343.7,1027.0 344.9,1027.3 346.1,1027.5 347.3,1027.8 348.5,1028.0 349.7,1028.2 350.9,1028.5 352.1,1028.7 353.4,1028.8 354.6,1029.0 355.8,1029.2 357.1,1029.3 358.3,1029.5 359.5,1029.6 360.8,1029.7 362.0,1029.8 363.2,1029.9 364.5,1029.9 365.7,1030.0 366.9,1030.1 368.1,1030.1 369.4,1030.2 370.6,1030.2 371.9,1030.3 373.1,1030.3 374.3,1030.4 375.6,1030.4 376.8,1030.5 378.0,1030.5 379.3,1030.6 380.5,1030.6 381.7,1030.6 383.0,1030.7 384.2,1030.7 385.5,1030.7 386.7,1030.7 387.9,1030.8 389.2,1030.8 390.4,1030.8 391.6,1030.8 392.9,1030.8 394.1,1030.8 395.4,1030.8 396.6,1030.8 397.8,1030.8 399.1,1030.8 400.3,1030.8 401.5,1030.8 402.8,1030.8 404.0,1030.8 405.2,1030.8 406.5,1030.8 407.7,1030.8 409.0,1030.8 410.2,1030.8 411.4,1030.8 412.7,1030.8 413.9,1030.8 415.1,1030.8 416.4,1030.8 417.6,1030.8 418.8,1030.8 420.1,1030.8 421.3,1030.8 422.6,1030.8 423.8,1030.8 425.0,1030.8 426.3,1030.8 427.5,1030.8 428.7,1030.8 430.0,1030.8 431.2,1030.8 432.4,1030.8 433.7,1030.8 434.9,1030.8 436.2,1030.8 437.4,1030.8 438.6,1030.8 439.9,1030.8 441.1,1030.8 442.3,1030.8 443.6,1030.8 444.8,1030.8 446.1,1030.8 447.3,1030.8 448.5,1030.8 449.8,1030.8 451.0,1030.8" fill="none" stroke="#66cc00" stroke-width="1.9" stroke-linejoin="round" stroke-linecap="round" />
<line x1="112.80" y1="704.00" x2="88.10" y2="1033.00" stroke="#000" stroke-width="1.8" />
<line x1="272.60" y1="712.90" x2="318.00" y2="1033.00" stroke="#000" stroke-width="1.8" />
<line x1="347.60" y1="727.60" x2="368.50" y2="727.60" stroke="#66cc00" stroke-width="3.4" />
<line x1="116.10" y1="982.90" x2="96.47" y2="1016.39" stroke="#8dc800" stroke-width="4.3" /><polygon points="92.30,1023.50 93.37,1012.19 101.65,1017.04" fill="#8dc800"/>
<line x1="340.80" y1="978.20" x2="323.11" y2="1018.46" stroke="#8dc800" stroke-width="4.3" /><polygon points="319.80,1026.00 319.55,1014.64 328.34,1018.50" fill="#8dc800"/>
<rect x="565.80" y="673.90" width="413.00" height="360.30" fill="none" stroke="#000" stroke-width="1.8"/>
<path d="M566.30 673.90v7.6M566.30 1034.20v-7.6M605.63 673.90v7.6M605.63 1034.20v-7.6M644.96 673.90v7.6M644.96 1034.20v-7.6M684.29 673.90v7.6M684.29 1034.20v-7.6M723.62 673.90v7.6M723.62 1034.20v-7.6M762.95 673.90v7.6M762.95 1034.20v-7.6M802.28 673.90v7.6M802.28 1034.20v-7.6M841.61 673.90v7.6M841.61 1034.20v-7.6M880.94 673.90v7.6M880.94 1034.20v-7.6M920.27 673.90v7.6M920.27 1034.20v-7.6M959.60 673.90v7.6M959.60 1034.20v-7.6" stroke="#000" stroke-width="1.8" fill="none"/>
<polyline points="566.1,1025.6 567.3,1025.7 568.4,1025.7 569.6,1025.8 570.7,1025.9 571.9,1026.0 573.1,1026.1 574.2,1026.2 575.4,1026.3 576.5,1026.4 577.7,1026.5 578.9,1026.6 580.0,1026.8 581.2,1026.9 582.3,1027.0 583.5,1027.1 584.6,1027.3 585.8,1027.4 586.9,1027.6 588.1,1027.8 589.2,1028.0 590.4,1028.2 591.5,1028.4 592.7,1028.5 593.8,1028.7 595.0,1028.8 596.2,1028.9 597.3,1029.0 598.5,1029.1 599.6,1029.2 600.8,1029.3 602.0,1029.3 603.1,1029.4 604.3,1029.5 605.4,1029.5 606.6,1029.5 607.8,1029.5 608.9,1029.5 610.1,1029.4 611.3,1029.3 612.4,1029.2 613.6,1029.1 614.7,1029.0 615.9,1028.9 617.1,1028.8 618.2,1028.6 619.4,1028.5 620.5,1028.3 621.7,1028.1 622.8,1027.9 623.9,1027.6 625.1,1027.3 626.2,1027.0 627.3,1026.6 628.4,1026.3 629.5,1025.9 630.6,1025.4 631.6,1024.9 632.7,1024.4 633.7,1023.9 634.7,1023.3 635.7,1022.7 636.7,1022.0 637.5,1021.2 638.2,1020.3 638.8,1019.3 639.4,1018.3 640.0,1017.3 640.5,1016.2 640.9,1015.1 641.3,1014.0 641.6,1012.9 641.9,1011.8 642.2,1010.7 642.4,1009.5 642.6,1008.4 642.8,1007.2 643.0,1006.1 643.2,1004.9 643.4,1003.8 643.5,1002.6 643.7,1001.5 643.8,1000.3 643.9,999.2 644.1,998.0 644.2,996.8 644.3,995.7 644.5,994.5 644.6,993.4 644.7,992.2 644.8,991.1 644.9,989.9 645.0,988.7 645.1,987.6 645.2,986.4 645.3,985.3 645.4,984.1 645.4,982.9 645.5,981.8 645.6,980.6 645.7,979.5 645.8,978.3 645.9,977.1 645.9,976.0 646.0,974.8 646.1,973.7 646.2,972.5 646.2,971.3 646.3,970.2 646.4,969.0 646.4,967.8 646.5,966.7 646.6,965.5 646.6,964.4 646.7,963.2 646.8,962.0 646.8,960.9 646.9,959.7 647.0,958.6 647.0,957.4 647.1,956.2 647.2,955.1 647.2,953.9 647.3,952.7 647.3,951.6 647.4,950.4 647.5,949.3 647.5,948.1 647.6,946.9 647.6,945.8 647.7,944.6 647.7,943.4 647.8,942.3 647.8,941.1 647.9,940.0 647.9,938.8 648.0,937.6 648.0,936.5 648.1,935.3 648.1,934.1 648.2,933.0 648.2,931.8 648.3,930.7 648.3,929.5 648.4,928.3 648.4,927.2 648.5,926.0 648.5,924.8 648.5,923.7 648.6,922.5 648.6,921.4 648.7,920.2 648.7,919.0 648.7,917.9 648.8,916.7 648.8,915.5 648.9,914.4 648.9,913.2 648.9,912.1 649.0,910.9 649.0,909.7 649.1,908.6 649.1,907.4 649.1,906.2 649.2,905.1 649.2,903.9 649.2,902.8 649.3,901.6 649.3,900.4 649.3,899.3 649.4,898.1 649.4,896.9 649.5,895.8 649.5,894.6 649.5,893.5 649.6,892.3 649.6,891.1 649.6,890.0 649.7,888.8 649.7,887.6 649.7,886.5 649.8,885.3 649.8,884.2 649.8,883.0 649.9,881.8 649.9,880.7 649.9,879.5 650.0,878.3 650.0,877.2 650.0,876.0 650.1,874.8 650.1,873.7 650.1,872.5 650.2,871.4 650.2,870.2 650.2,869.0 650.3,867.9 650.3,866.7 650.3,865.5 650.4,864.4 650.4,863.2 650.4,862.1 650.5,860.9 650.5,859.7 650.5,858.6 650.6,857.4 650.6,856.2 650.6,855.1 650.7,853.9 650.7,852.8 650.7,851.6 650.8,850.4 650.8,849.3 650.8,848.1 650.9,846.9 650.9,845.8 650.9,844.6 651.0,843.4 651.0,842.3 651.0,841.1 651.0,840.0 651.1,838.8 651.1,837.6 651.1,836.5 651.2,835.3 651.2,834.1 651.2,833.0 651.2,831.8 651.3,830.7 651.3,829.5 651.3,828.3 651.4,827.2 651.4,826.0 651.4,824.8 651.4,823.7 651.5,822.5 651.5,821.3 651.5,820.2 651.6,819.0 651.6,817.9 651.6,816.7 651.7,815.5 651.7,814.4 651.7,813.2 651.8,812.0 651.8,810.9 651.8,809.7 651.9,808.6 651.9,807.4 651.9,806.2 652.0,805.1 652.0,803.9 652.0,802.7 652.1,801.6 652.1,800.4 652.1,799.2 652.2,798.1 652.2,796.9 652.3,795.8 652.3,794.6 652.3,793.4 652.4,792.3 652.4,791.1 652.5,790.0 652.5,788.8 652.6,787.6 652.6,786.5 652.6,785.3 652.7,784.1 652.7,783.0 652.8,781.8 652.9,780.7 652.9,779.5 653.0,778.3 653.0,777.2 653.1,776.0 653.2,774.8 653.2,773.7 653.3,772.5 653.4,771.4 653.4,770.2 653.5,769.0 653.6,767.9 653.7,766.7 653.8,765.6 653.8,764.4 653.9,763.2 654.0,762.1 654.1,760.9 654.2,759.8 654.3,758.6 654.3,757.4 654.4,756.3 654.5,755.1 654.6,754.0 654.7,752.8 654.8,751.6 654.9,750.5 655.0,749.3 655.1,748.2 655.2,747.0 655.3,745.8 655.4,744.7 655.5,743.5 655.7,742.4 655.8,741.2 655.9,740.0 656.0,738.9 656.1,737.7 656.2,736.6 656.4,735.4 656.5,734.3 656.6,733.1 656.8,731.9 656.9,730.8 657.0,729.6 657.2,728.5 657.3,727.3 657.4,726.2 657.6,725.0 657.7,723.8 657.8,722.7 658.0,721.5 658.1,720.3 658.2,719.2 658.4,718.0 658.5,716.8 658.7,715.7 658.9,714.5 659.1,713.4 659.3,712.2 659.5,711.1 659.8,710.0 660.0,708.9 660.4,707.7 660.8,706.3 661.3,705.0 661.9,703.8 662.5,702.9 663.2,702.4 664.0,702.4 665.1,703.1 666.0,704.0 666.6,704.9 667.2,705.9 667.7,707.0 668.2,708.1 668.6,709.7 668.9,710.6 669.1,711.1 669.4,712.3 669.6,713.5 669.9,714.9 670.2,715.9 670.6,717.2 670.9,718.3 671.3,719.2 671.6,720.4 672.0,721.6 672.3,722.6 672.7,723.9 673.0,725.5 673.4,726.2 673.7,727.1 674.0,727.6 674.4,729.5 674.6,729.8 674.9,731.1 675.2,733.0 675.4,734.1 675.6,734.9 675.8,735.5 676.1,737.1 676.3,738.2 676.5,739.8 676.7,741.5 676.9,741.9 677.1,742.7 677.4,743.7 677.6,745.3 677.8,746.3 678.1,747.1 678.4,748.7 678.7,749.4 679.0,751.3 679.3,752.4 679.5,753.6 679.8,754.1 680.1,755.6 680.4,756.5 680.7,757.6 680.9,758.7 681.2,759.5 681.4,760.6 681.7,762.5 681.9,763.3 682.2,764.6 682.4,766.0 682.6,766.2 682.8,767.7 683.0,769.1 683.3,770.4 683.5,771.2 683.7,772.9 683.9,773.7 684.1,774.4 684.3,775.6 684.5,777.4 684.8,778.4 685.0,778.7 685.2,781.0 685.4,781.9 685.7,783.3 685.9,783.8 686.1,785.0 686.4,785.8 686.6,788.2 686.9,788.4 687.1,790.2 687.3,790.5 687.6,792.0 687.9,792.4 688.1,794.0 688.4,795.7 688.6,796.0 688.9,798.0 689.1,798.8 689.4,799.5 689.6,800.8 689.9,802.0 690.1,803.2 690.4,804.2 690.6,805.2 690.9,806.6 691.1,807.4 691.4,808.5 691.6,810.1 691.9,811.5 692.1,811.8 692.3,813.5 692.6,814.4 692.8,815.4 693.1,817.2 693.3,817.9 693.5,819.7 693.8,820.0 694.0,821.6 694.3,822.5 694.5,823.5 694.8,825.1 695.0,826.0 695.3,827.4 695.5,828.3 695.8,829.0 696.0,830.5 696.3,831.7 696.5,833.2 696.8,833.6 697.0,835.1 697.3,835.6 697.5,837.6 697.8,838.1 698.0,839.0 698.3,840.7 698.6,842.3 698.8,842.5 699.1,843.8 699.3,845.1 699.6,846.1 699.8,847.7 700.1,848.4 700.4,849.6 700.6,851.2 700.9,851.9 701.2,853.4 701.5,854.0 701.7,855.1 702.0,856.0 702.3,858.4 702.6,858.8 702.9,860.1 703.2,861.1 703.5,862.3 703.8,863.4 704.2,865.2 704.5,865.2 704.8,866.2 705.1,867.5 705.5,868.5 705.8,870.3 706.2,871.5 706.5,871.9 706.9,872.9 707.3,874.4 707.7,876.1 708.0,875.7 708.4,878.0 708.8,878.5 709.2,880.3 709.6,880.7 710.1,882.0 710.5,882.7 710.9,884.0 711.3,885.9 711.8,886.8 712.2,887.4 712.7,888.3 713.2,889.0 713.7,890.6 714.1,891.8 714.7,892.8 715.2,893.9 715.7,894.5 716.2,895.9 716.8,897.0 717.4,898.4 718.0,899.6 718.6,900.0 719.2,900.7 719.8,902.0 720.5,902.8 721.2,903.6 721.9,904.8 722.7,905.3 723.5,906.7 724.3,907.3 725.2,908.2 726.1,908.8 727.0,909.4 728.0,910.0 729.0,910.8 730.0,911.1 731.1,911.7 732.2,912.0 733.4,911.8 734.5,912.5 735.7,912.3 736.8,912.7 738.0,913.0 739.2,912.5 740.3,913.4 741.5,913.6 742.6,913.7 743.7,913.9 744.8,914.3 745.9,914.6 746.9,915.5 747.9,916.0 748.7,916.9 749.5,917.3 750.2,918.7 751.0,919.6 751.6,920.5 752.3,921.4 753.0,922.7 753.7,922.9 754.3,924.6 754.9,925.5 755.5,926.5 756.2,927.5 756.8,928.2 757.4,929.3 758.1,930.5 758.8,931.3 759.6,932.1 760.4,932.4 761.2,933.9 762.0,935.0 762.9,935.7 763.7,936.3 764.5,936.5 765.4,938.2 766.2,938.6 767.0,938.6 767.9,940.4 768.8,940.5 769.7,941.3 770.6,942.2 771.6,943.6 772.6,943.7 773.6,944.5 774.6,945.5 775.7,945.8 776.8,945.5 777.9,945.8 779.1,945.7 780.3,946.1 781.4,946.6 782.6,946.6 783.7,946.4 784.9,946.4 786.0,945.4 787.1,945.3 788.2,945.2 789.2,944.7 790.2,944.3 791.2,943.4 792.2,942.4 793.1,941.9 794.0,940.6 794.8,939.6 795.6,939.6 796.3,938.5 797.0,937.7 797.6,936.0 798.2,935.5 798.8,934.4 799.4,933.2 800.0,931.7 800.7,931.4 801.3,930.9 801.9,929.7 802.6,928.4 803.2,927.6 803.8,926.9 804.5,924.7 805.1,924.6 805.7,923.9 806.4,923.0 807.1,922.4 807.8,921.3 808.5,920.1 809.2,919.2 810.0,918.4 810.7,917.1 811.5,916.4 812.3,915.9 813.1,915.4 814.0,913.9 814.8,913.1 815.7,912.5 816.6,912.2 817.6,911.0 818.6,910.9 819.5,909.4 820.5,909.0 821.5,908.3 822.4,908.1 823.4,907.5 824.4,906.0 825.4,905.6 826.4,905.4 827.4,904.5 828.4,903.6 829.5,903.9 830.5,903.1 831.4,902.4 832.2,901.4 833.0,901.1 833.7,899.7 834.4,899.3 835.1,897.6 835.8,896.6 836.4,896.0 837.0,894.7 837.7,894.2 838.3,893.1 838.9,891.7 839.5,891.0 840.1,889.9 840.7,889.3 841.2,887.7 841.8,886.8 842.4,886.3 842.9,885.7 843.5,884.6 844.0,882.9 844.5,881.9 845.1,881.3 845.6,879.7 846.1,878.3 846.7,877.7 847.2,876.8 847.7,875.3 848.3,874.0 848.8,873.0 849.3,872.7 849.9,871.2 850.4,870.4 851.0,869.5 851.6,868.6 852.2,867.3 852.8,866.6 853.5,865.1 854.2,864.3 854.9,863.1 855.7,863.1 856.6,862.1 857.7,861.3 858.8,861.0 860.0,860.7 861.1,861.1 862.2,860.8 863.2,861.6 864.1,862.5 865.0,864.4 865.7,864.7 866.4,865.3 867.0,866.6 867.5,868.1 868.0,868.4 868.4,869.4 868.8,871.1 869.2,871.9 869.6,873.1 869.9,873.8 870.2,875.7 870.6,876.8 870.9,877.5 871.2,878.7 871.5,878.8 871.8,880.9 872.0,881.8 872.3,882.9 872.6,884.1 872.8,885.2 873.1,886.3 873.3,887.5 873.5,888.6 873.8,889.8 874.0,890.9 874.2,892.0 874.4,893.2 874.6,894.3 874.8,895.5 875.0,896.6 875.2,897.8 875.4,898.9 875.7,900.1 875.9,901.2 876.1,902.4 876.3,903.5 876.5,904.6 876.8,905.8 877.0,906.9 877.2,908.1 877.5,909.2 877.7,910.3 877.9,911.5 878.2,912.6 878.4,913.8 878.7,914.9 878.9,916.0 879.1,917.2 879.4,918.3 879.6,919.5 879.9,920.6 880.1,921.7 880.3,922.9 880.5,924.0 880.8,925.2 881.0,926.3 881.2,927.4 881.4,928.6 881.7,929.7 881.9,930.9 882.1,932.0 882.3,933.2 882.5,934.3 882.7,935.4 882.9,936.6 883.1,937.7 883.3,938.9 883.5,940.0 883.8,941.2 884.0,942.3 884.2,943.5 884.4,944.6 884.6,945.7 884.8,946.9 885.0,948.0 885.2,949.2 885.4,950.3 885.6,951.5 885.8,952.6 886.0,953.8 886.2,954.9 886.4,956.1 886.6,957.2 886.8,958.4 887.0,959.5 887.2,960.6 887.4,961.8 887.6,962.9 887.8,964.1 888.0,965.2 888.2,966.4 888.4,967.5 888.6,968.7 888.8,969.8 889.0,970.9 889.2,972.1 889.5,973.2 889.7,974.4 889.9,975.5 890.1,976.7 890.4,977.8 890.6,978.9 890.8,980.1 891.1,981.2 891.3,982.4 891.5,983.5 891.7,984.6 892.0,985.8 892.2,986.9 892.4,988.1 892.6,989.2 892.8,990.4 893.0,991.5 893.2,992.7 893.4,993.8 893.6,995.0 893.8,996.1 894.1,997.2 894.3,998.4 894.6,999.5 894.9,1000.6 895.2,1001.7 895.6,1002.8 896.0,1003.9 896.4,1005.0 896.8,1006.1 897.3,1007.2 897.8,1008.2 898.4,1009.2 899.0,1010.3 899.6,1011.2 900.2,1012.2 900.9,1013.2 901.5,1014.2 902.2,1015.1 903.0,1016.1 903.7,1016.9 904.5,1017.8 905.3,1018.5 906.2,1019.2 907.2,1019.9 908.2,1020.5 909.2,1021.1 910.3,1021.6 911.3,1022.2 912.3,1022.7 913.4,1023.3 914.4,1023.8 915.5,1024.3 916.5,1024.7 917.6,1025.2 918.7,1025.5 919.8,1025.9 920.9,1026.3 922.0,1026.7 923.1,1027.0 924.3,1027.3 925.4,1027.6 926.5,1027.8 927.7,1028.0 928.8,1028.1 930.0,1028.3 931.1,1028.5 932.3,1028.6 933.4,1028.8 934.6,1028.9 935.8,1029.0 936.9,1029.1 938.1,1029.2 939.2,1029.3 940.4,1029.4 941.6,1029.5 942.7,1029.5 943.9,1029.6 945.1,1029.6 946.2,1029.6 947.4,1029.7 948.5,1029.7 949.7,1029.7 950.9,1029.7 952.0,1029.7 953.2,1029.8 954.4,1029.8 955.5,1029.8 956.7,1029.8 957.9,1029.8 959.0,1029.8 960.2,1029.8 961.3,1029.8 962.5,1029.8 963.7,1029.8 964.8,1029.8 966.0,1029.8 967.2,1029.8 968.3,1029.8 969.5,1029.8 970.7,1029.8 971.8,1029.8 973.0,1029.8 974.1,1029.8 975.3,1029.8 976.5,1029.8 977.6,1029.8 978.8,1029.8" fill="none" stroke="#ff0000" stroke-width="2.6" stroke-linejoin="round" stroke-linecap="round" />
<line x1="656.70" y1="687.30" x2="642.40" y2="1033.50" stroke="#000" stroke-width="1.8" />
<line x1="864.90" y1="848.00" x2="899.00" y2="1032.70" stroke="#000" stroke-width="1.8" />
<line x1="883.40" y1="724.60" x2="902.90" y2="724.60" stroke="#ff0000" stroke-width="3.9" />
<line x1="670.80" y1="981.60" x2="651.30" y2="1015.65" stroke="#ff0000" stroke-width="3.3" /><polygon points="647.20,1022.80 648.15,1011.48 656.48,1016.25" fill="#ff0000"/>
<line x1="914.50" y1="970.80" x2="904.72" y2="1016.74" stroke="#ff0000" stroke-width="3.3" /><polygon points="903.00,1024.80 900.45,1013.73 909.84,1015.73" fill="#ff0000"/>
<rect x="1062.2" y="254.6" width="175.3" height="824.9" fill="#e0e0e0" stroke="#000" stroke-width="3.2"/>
<rect x="1237.5" y="511.05" width="361.8" height="406.8" fill="#ffebc2" stroke="#000" stroke-width="3.2"/>
<polygon points="1062,98.95 1646,97.2 1646,104.1 1062,105.85" fill="#000"/>
<polyline points="1059.7,163.3 1061.2,163.7 1062.6,164.2 1064.1,164.7 1065.5,165.1 1067.0,165.6 1068.5,166.0 1069.9,166.5 1071.4,166.9 1072.9,167.4 1074.3,167.8 1075.8,168.2 1077.2,168.6 1078.7,169.0 1080.2,169.4 1081.6,169.8 1083.1,170.2 1084.5,170.5 1086.0,170.9 1087.5,171.2 1088.9,171.5 1090.4,171.8 1091.9,172.1 1093.3,172.4 1094.8,172.7 1096.2,172.9 1097.7,173.1 1099.2,173.4 1100.6,173.6 1102.1,173.7 1103.5,173.9 1105.0,174.1 1106.5,174.2 1107.9,174.3 1109.4,174.4 1110.8,174.5 1112.3,174.5 1113.8,174.6 1115.2,174.6 1116.7,174.6 1118.2,174.6 1119.6,174.5 1121.1,174.5 1122.5,174.4 1124.0,174.3 1125.5,174.2 1126.9,174.1 1128.4,174.0 1129.8,173.8 1131.3,173.6 1132.8,173.4 1134.2,173.2 1135.7,173.0 1137.2,172.8 1138.6,172.5 1140.1,172.2 1141.5,171.9 1143.0,171.6 1144.5,171.3 1145.9,171.0 1147.4,170.6 1148.8,170.3 1150.3,169.9 1151.8,169.5 1153.2,169.2 1154.7,168.8 1156.2,168.3 1157.6,167.9 1159.1,167.5 1160.5,167.1 1162.0,166.6 1163.5,166.2 1164.9,165.7 1166.4,165.3 1167.8,164.8 1169.3,164.4 1170.8,163.9 1172.2,163.4 1173.7,163.0 1175.2,162.5 1176.6,162.0 1178.1,161.6 1179.5,161.1 1181.0,160.6 1182.5,160.2 1183.9,159.7 1185.4,159.3 1186.8,158.8 1188.3,158.4 1189.8,157.9 1191.2,157.5 1192.7,157.1 1194.1,156.7 1195.6,156.3 1197.1,155.9 1198.5,155.5 1200.0,155.2 1201.5,154.8 1202.9,154.5 1204.4,154.1 1205.8,153.8 1207.3,153.5 1208.8,153.2 1210.2,152.9 1211.7,152.7 1213.1,152.4 1214.6,152.2 1216.1,152.0 1217.5,151.8 1219.0,151.6 1220.5,151.5 1221.9,151.3 1223.4,151.2 1224.8,151.1 1226.3,151.0 1227.8,150.9 1229.2,150.9 1230.7,150.8 1232.1,150.8 1233.6,150.8 1235.1,150.8 1236.5,150.9 1238.0,150.9 1239.5,151.0 1240.9,151.1 1242.4,151.2 1243.8,151.3 1245.3,151.5 1246.8,151.7 1248.2,151.9 1249.7,152.1 1251.1,152.3 1252.6,152.5 1254.1,152.8 1255.5,153.1 1257.0,153.4 1258.5,153.7 1259.9,154.0 1261.4,154.3 1262.8,154.7 1264.3,155.0 1265.8,155.4 1267.2,155.8 1268.7,156.2 1270.1,156.6 1271.6,157.0 1273.1,157.4 1274.5,157.9 1276.0,158.3 1277.4,158.8 1278.9,159.2 1280.4,159.7 1281.8,160.1 1283.3,160.6 1284.8,161.1 1286.2,161.6 1287.7,162.1 1289.1,162.5 1290.6,163.0 1292.1,163.5 1293.5,164.0 1295.0,164.4 1296.4,164.9 1297.9,165.4 1299.4,165.9 1300.8,166.3 1302.3,166.8 1303.8,167.2 1305.2,167.7 1306.7,168.1 1308.1,168.5 1309.6,168.9 1311.1,169.3 1312.5,169.7 1314.0,170.1 1315.4,170.5 1316.9,170.8 1318.4,171.2 1319.8,171.5 1321.3,171.8 1322.8,172.1 1324.2,172.4 1325.7,172.7 1327.1,172.9 1328.6,173.2 1330.1,173.4 1331.5,173.6 1333.0,173.8 1334.4,173.9 1335.9,174.1 1337.4,174.2 1338.8,174.3 1340.3,174.4 1341.8,174.5 1343.2,174.6 1344.7,174.6 1346.1,174.6 1347.6,174.6 1349.1,174.6 1350.5,174.5 1352.0,174.5 1353.4,174.4 1354.9,174.3 1356.4,174.2 1357.8,174.1 1359.3,173.9 1360.7,173.8 1362.2,173.6 1363.7,173.4 1365.1,173.2 1366.6,173.0 1368.1,172.8 1369.5,172.5 1371.0,172.2 1372.4,172.0 1373.9,171.7 1375.4,171.4 1376.8,171.0 1378.3,170.7 1379.7,170.4 1381.2,170.0 1382.7,169.7 1384.1,169.3 1385.6,168.9 1387.1,168.5 1388.5,168.1 1390.0,167.7 1391.4,167.3 1392.9,166.9 1394.4,166.4 1395.8,166.0 1397.3,165.6 1398.7,165.1 1400.2,164.7 1401.7,164.2 1403.1,163.8 1404.6,163.3 1406.1,162.9 1407.5,162.4 1409.0,161.9 1410.4,161.5 1411.9,161.0 1413.4,160.6 1414.8,160.1 1416.3,159.7 1417.7,159.3 1419.2,158.8 1420.7,158.4 1422.1,158.0 1423.6,157.6 1425.1,157.2 1426.5,156.8 1428.0,156.4 1429.4,156.0 1430.9,155.6 1432.4,155.3 1433.8,154.9 1435.3,154.6 1436.7,154.2 1438.2,153.9 1439.7,153.6 1441.1,153.3 1442.6,153.1 1444.0,152.8 1445.5,152.6 1447.0,152.3 1448.4,152.1 1449.9,151.9 1451.4,151.7 1452.8,151.6 1454.3,151.4 1455.7,151.3 1457.2,151.2 1458.7,151.1 1460.1,151.0 1461.6,150.9 1463.0,150.9 1464.5,150.8 1466.0,150.8 1467.4,150.8 1468.9,150.8 1470.4,150.9 1471.8,150.9 1473.3,151.0 1474.7,151.1 1476.2,151.2 1477.7,151.3 1479.1,151.5 1480.6,151.6 1482.0,151.8 1483.5,152.0 1485.0,152.2 1486.4,152.5 1487.9,152.7 1489.4,153.0 1490.8,153.3 1492.3,153.6 1493.7,153.9 1495.2,154.2 1496.7,154.5 1498.1,154.9 1499.6,155.2 1501.0,155.6 1502.5,156.0 1504.0,156.4 1505.4,156.8 1506.9,157.2 1508.4,157.6 1509.8,158.0 1511.3,158.5 1512.7,158.9 1514.2,159.4 1515.7,159.8 1517.1,160.3 1518.6,160.7 1520.0,161.2 1521.5,161.7 1523.0,162.1 1524.4,162.6 1525.9,163.1 1527.3,163.6 1528.8,164.0 1530.3,164.5 1531.7,164.9 1533.2,165.4 1534.7,165.9 1536.1,166.3 1537.6,166.8 1539.0,167.2 1540.5,167.6 1542.0,168.1 1543.4,168.5 1544.9,168.9 1546.3,169.3 1547.8,169.7 1549.3,170.0 1550.7,170.4 1552.2,170.8 1553.7,171.1 1555.1,171.4 1556.6,171.7 1558.0,172.0 1559.5,172.3 1561.0,172.6 1562.4,172.8 1563.9,173.1 1565.3,173.3 1566.8,173.5 1568.3,173.7 1569.7,173.9 1571.2,174.0 1572.7,174.2 1574.1,174.3 1575.6,174.4 1577.0,174.5 1578.5,174.5 1580.0,174.6 1581.4,174.6 1582.9,174.6 1584.3,174.6 1585.8,174.6 1587.3,174.5 1588.7,174.5 1590.2,174.4 1591.7,174.3 1593.1,174.2 1594.6,174.1 1596.0,174.0 1597.5,173.8 1599.0,173.7 1600.4,173.5 1601.9,173.3 1603.3,173.1 1604.8,172.9 1606.3,172.7 1607.7,172.4 1609.2,172.2 1610.6,171.9 1612.1,171.6 1613.6,171.3 1615.0,171.0 1616.5,170.7 1618.0,170.4 1619.4,170.0 1620.9,169.7 1622.3,169.3 1623.8,169.0 1625.3,168.6 1626.7,168.2 1628.2,167.9 1629.6,167.5 1631.1,167.1 1632.6,166.7 1634.0,166.3 1635.5,165.8 1637.0,165.4 1638.4,165.0 1639.9,164.6 1641.3,164.2 1642.8,163.7" fill="none" stroke="#000" stroke-width="1.7" stroke-linejoin="round" stroke-linecap="butt" stroke-dasharray="12.8 4.6"/>
<polyline points="1059.7,187.2 1061.2,187.6 1062.6,188.1 1064.1,188.6 1065.5,189.0 1067.0,189.5 1068.5,189.9 1069.9,190.4 1071.4,190.8 1072.9,191.3 1074.3,191.7 1075.8,192.1 1077.2,192.5 1078.7,192.9 1080.2,193.3 1081.6,193.7 1083.1,194.1 1084.5,194.4 1086.0,194.8 1087.5,195.1 1088.9,195.4 1090.4,195.7 1091.9,196.0 1093.3,196.3 1094.8,196.6 1096.2,196.8 1097.7,197.0 1099.2,197.3 1100.6,197.5 1102.1,197.6 1103.5,197.8 1105.0,198.0 1106.5,198.1 1107.9,198.2 1109.4,198.3 1110.8,198.4 1112.3,198.4 1113.8,198.5 1115.2,198.5 1116.7,198.5 1118.2,198.5 1119.6,198.4 1121.1,198.4 1122.5,198.3 1124.0,198.2 1125.5,198.1 1126.9,198.0 1128.4,197.9 1129.8,197.7 1131.3,197.5 1132.8,197.3 1134.2,197.1 1135.7,196.9 1137.2,196.7 1138.6,196.4 1140.1,196.1 1141.5,195.8 1143.0,195.5 1144.5,195.2 1145.9,194.9 1147.4,194.5 1148.8,194.2 1150.3,193.8 1151.8,193.4 1153.2,193.1 1154.7,192.7 1156.2,192.2 1157.6,191.8 1159.1,191.4 1160.5,191.0 1162.0,190.5 1163.5,190.1 1164.9,189.6 1166.4,189.2 1167.8,188.7 1169.3,188.3 1170.8,187.8 1172.2,187.3 1173.7,186.9 1175.2,186.4 1176.6,185.9 1178.1,185.5 1179.5,185.0 1181.0,184.5 1182.5,184.1 1183.9,183.6 1185.4,183.2 1186.8,182.7 1188.3,182.3 1189.8,181.8 1191.2,181.4 1192.7,181.0 1194.1,180.6 1195.6,180.2 1197.1,179.8 1198.5,179.4 1200.0,179.1 1201.5,178.7 1202.9,178.4 1204.4,178.0 1205.8,177.7 1207.3,177.4 1208.8,177.1 1210.2,176.8 1211.7,176.6 1213.1,176.3 1214.6,176.1 1216.1,175.9 1217.5,175.7 1219.0,175.5 1220.5,175.4 1221.9,175.2 1223.4,175.1 1224.8,175.0 1226.3,174.9 1227.8,174.8 1229.2,174.8 1230.7,174.7 1232.1,174.7 1233.6,174.7 1235.1,174.7 1236.5,174.8 1238.0,174.8 1239.5,174.9 1240.9,175.0 1242.4,175.1 1243.8,175.2 1245.3,175.4 1246.8,175.6 1248.2,175.8 1249.7,176.0 1251.1,176.2 1252.6,176.4 1254.1,176.7 1255.5,177.0 1257.0,177.3 1258.5,177.6 1259.9,177.9 1261.4,178.2 1262.8,178.6 1264.3,178.9 1265.8,179.3 1267.2,179.7 1268.7,180.1 1270.1,180.5 1271.6,180.9 1273.1,181.3 1274.5,181.8 1276.0,182.2 1277.4,182.7 1278.9,183.1 1280.4,183.6 1281.8,184.0 1283.3,184.5 1284.8,185.0 1286.2,185.5 1287.7,186.0 1289.1,186.4 1290.6,186.9 1292.1,187.4 1293.5,187.9 1295.0,188.3 1296.4,188.8 1297.9,189.3 1299.4,189.8 1300.8,190.2 1302.3,190.7 1303.8,191.1 1305.2,191.6 1306.7,192.0 1308.1,192.4 1309.6,192.8 1311.1,193.2 1312.5,193.6 1314.0,194.0 1315.4,194.4 1316.9,194.7 1318.4,195.1 1319.8,195.4 1321.3,195.7 1322.8,196.0 1324.2,196.3 1325.7,196.6 1327.1,196.8 1328.6,197.1 1330.1,197.3 1331.5,197.5 1333.0,197.7 1334.4,197.8 1335.9,198.0 1337.4,198.1 1338.8,198.2 1340.3,198.3 1341.8,198.4 1343.2,198.5 1344.7,198.5 1346.1,198.5 1347.6,198.5 1349.1,198.5 1350.5,198.4 1352.0,198.4 1353.4,198.3 1354.9,198.2 1356.4,198.1 1357.8,198.0 1359.3,197.8 1360.7,197.7 1362.2,197.5 1363.7,197.3 1365.1,197.1 1366.6,196.9 1368.1,196.7 1369.5,196.4 1371.0,196.1 1372.4,195.9 1373.9,195.6 1375.4,195.3 1376.8,194.9 1378.3,194.6 1379.7,194.3 1381.2,193.9 1382.7,193.6 1384.1,193.2 1385.6,192.8 1387.1,192.4 1388.5,192.0 1390.0,191.6 1391.4,191.2 1392.9,190.8 1394.4,190.3 1395.8,189.9 1397.3,189.5 1398.7,189.0 1400.2,188.6 1401.7,188.1 1403.1,187.7 1404.6,187.2 1406.1,186.8 1407.5,186.3 1409.0,185.8 1410.4,185.4 1411.9,184.9 1413.4,184.5 1414.8,184.0 1416.3,183.6 1417.7,183.2 1419.2,182.7 1420.7,182.3 1422.1,181.9 1423.6,181.5 1425.1,181.1 1426.5,180.7 1428.0,180.3 1429.4,179.9 1430.9,179.5 1432.4,179.2 1433.8,178.8 1435.3,178.5 1436.7,178.1 1438.2,177.8 1439.7,177.5 1441.1,177.2 1442.6,177.0 1444.0,176.7 1445.5,176.5 1447.0,176.2 1448.4,176.0 1449.9,175.8 1451.4,175.6 1452.8,175.5 1454.3,175.3 1455.7,175.2 1457.2,175.1 1458.7,175.0 1460.1,174.9 1461.6,174.8 1463.0,174.8 1464.5,174.7 1466.0,174.7 1467.4,174.7 1468.9,174.7 1470.4,174.8 1471.8,174.8 1473.3,174.9 1474.7,175.0 1476.2,175.1 1477.7,175.2 1479.1,175.4 1480.6,175.5 1482.0,175.7 1483.5,175.9 1485.0,176.1 1486.4,176.4 1487.9,176.6 1489.4,176.9 1490.8,177.2 1492.3,177.5 1493.7,177.8 1495.2,178.1 1496.7,178.4 1498.1,178.8 1499.6,179.1 1501.0,179.5 1502.5,179.9 1504.0,180.3 1505.4,180.7 1506.9,181.1 1508.4,181.5 1509.8,181.9 1511.3,182.4 1512.7,182.8 1514.2,183.3 1515.7,183.7 1517.1,184.2 1518.6,184.6 1520.0,185.1 1521.5,185.6 1523.0,186.0 1524.4,186.5 1525.9,187.0 1527.3,187.5 1528.8,187.9 1530.3,188.4 1531.7,188.8 1533.2,189.3 1534.7,189.8 1536.1,190.2 1537.6,190.7 1539.0,191.1 1540.5,191.5 1542.0,192.0 1543.4,192.4 1544.9,192.8 1546.3,193.2 1547.8,193.6 1549.3,193.9 1550.7,194.3 1552.2,194.7 1553.7,195.0 1555.1,195.3 1556.6,195.6 1558.0,195.9 1559.5,196.2 1561.0,196.5 1562.4,196.7 1563.9,197.0 1565.3,197.2 1566.8,197.4 1568.3,197.6 1569.7,197.8 1571.2,197.9 1572.7,198.1 1574.1,198.2 1575.6,198.3 1577.0,198.4 1578.5,198.4 1580.0,198.5 1581.4,198.5 1582.9,198.5 1584.3,198.5 1585.8,198.5 1587.3,198.4 1588.7,198.4 1590.2,198.3 1591.7,198.2 1593.1,198.1 1594.6,198.0 1596.0,197.9 1597.5,197.7 1599.0,197.6 1600.4,197.4 1601.9,197.2 1603.3,197.0 1604.8,196.8 1606.3,196.6 1607.7,196.3 1609.2,196.1 1610.6,195.8 1612.1,195.5 1613.6,195.2 1615.0,194.9 1616.5,194.6 1618.0,194.3 1619.4,193.9 1620.9,193.6 1622.3,193.2 1623.8,192.9 1625.3,192.5 1626.7,192.1 1628.2,191.8 1629.6,191.4 1631.1,191.0 1632.6,190.6 1634.0,190.2 1635.5,189.7 1637.0,189.3 1638.4,188.9 1639.9,188.5 1641.3,188.1 1642.8,187.6" fill="none" stroke="#000" stroke-width="1.7" stroke-linejoin="round" stroke-linecap="butt" stroke-dasharray="12.8 4.6"/>
<line x1="1243.40" y1="530.90" x2="1589.20" y2="530.90" stroke="#000" stroke-width="2" stroke-dasharray="6.9 4.46"/>
<line x1="1116.00" y1="175.00" x2="1116.00" y2="117.16" stroke="#000" stroke-width="3.5" /><polygon points="1116.00,106.20 1122.25,119.90 1109.75,119.90" fill="#000"/>
<line x1="1116.00" y1="200.80" x2="1116.00" y2="242.24" stroke="#000" stroke-width="3.5" /><polygon points="1116.00,253.20 1109.75,239.50 1122.25,239.50" fill="#000"/>
<line x1="1406.70" y1="162.00" x2="1406.70" y2="115.96" stroke="#000" stroke-width="3.5" /><polygon points="1406.70,105.00 1412.95,118.70 1400.45,118.70" fill="#000"/>
<line x1="1406.70" y1="185.80" x2="1406.70" y2="498.64" stroke="#000" stroke-width="3.5" /><polygon points="1406.70,509.60 1400.45,495.90 1412.95,495.90" fill="#000"/>
<line x1="1087.50" y1="267.20" x2="1087.50" y2="1067.00" stroke="#000" stroke-width="5.2" /><polygon points="1087.50,1078.20 1080.20,1064.20 1094.80,1064.20" fill="#000"/><polygon points="1087.50,256.00 1094.80,270.00 1080.20,270.00" fill="#000"/>
<line x1="1250.60" y1="268.00" x2="1250.60" y2="497.30" stroke="#000" stroke-width="4.4" /><polygon points="1250.60,509.30 1243.50,494.30 1257.70,494.30" fill="#000"/><polygon points="1250.60,256.00 1257.70,271.00 1243.50,271.00" fill="#000"/>
<line x1="1321.60" y1="542.40" x2="1321.60" y2="904.30" stroke="#000" stroke-width="4.5" /><polygon points="1321.60,916.30 1314.40,901.30 1328.80,901.30" fill="#000"/><polygon points="1321.60,530.40 1328.80,545.40 1314.40,545.40" fill="#000"/>
<line x1="1469.29" y1="526.10" x2="1472.21" y2="904.30" stroke="#000" stroke-width="4.5" /><polygon points="1472.30,916.30 1464.98,901.36 1479.38,901.24" fill="#000"/><polygon points="1469.20,514.10 1476.52,529.04 1462.12,529.16" fill="#000"/>
<text transform="translate(8.84,120.60) scale(0.8956,1.0000)" font-size="42.5" fill="#000" stroke="#000" stroke-width="0.00">(a)</text>
<text transform="translate(8.52,638.20) scale(0.9427,1.0000)" font-size="42.5" fill="#000" stroke="#000" stroke-width="0.00">(b)</text>
<text transform="translate(543.66,638.20) scale(0.8874,1.0000)" font-size="42.5" fill="#000" stroke="#000" stroke-width="0.00">(c)</text>
<text transform="translate(958.54,32.70) scale(0.9706,1.0000)" font-size="42.5" fill="#000" stroke="#000" stroke-width="0.00">(d)</text>
<text transform="translate(114.80,572.50) scale(0.9278,1.0000)" font-size="32.8" fill="#000" stroke="#000" stroke-width="0.45">Binding energy (eV)</text>
<text transform="translate(637.11,574.70) scale(0.9240,1.0000)" font-size="32.8" fill="#000" stroke="#000" stroke-width="0.45">Binding energy (eV)</text>
<text transform="translate(117.91,1096.90) scale(0.9243,1.0000)" font-size="32.8" fill="#000" stroke="#000" stroke-width="0.45">Binding energy (eV)</text>
<text transform="translate(645.51,1096.10) scale(0.9261,1.0000)" font-size="32.8" fill="#000" stroke="#000" stroke-width="0.45">Binding energy (eV)</text>
<text transform="translate(24.10,438.49) rotate(-90) scale(1.0818,1.0000)" font-size="32" fill="#000" stroke="#000" stroke-width="0.45">Intensity (a.u.)</text>
<text transform="translate(545.00,440.10) rotate(-90) scale(1.0828,1.0000)" font-size="32" fill="#000" stroke="#000" stroke-width="0.45">Intensity (a.u.)</text>
<text transform="translate(24.00,958.18) rotate(-90) scale(1.0753,1.0000)" font-size="32" fill="#000" stroke="#000" stroke-width="0.45">Intensity (a.u.)</text>
<text transform="translate(544.10,962.87) rotate(-90) scale(1.0727,1.0000)" font-size="32" fill="#000" stroke="#000" stroke-width="0.45">Intensity (a.u.)</text>
<text transform="translate(105.67,538.20) scale(0.8984,1.0000)" font-size="25.2" fill="#000" stroke="#000" stroke-width="0.35">80</text>
<text transform="translate(231.88,538.20) scale(0.9078,1.0000)" font-size="25.2" fill="#000" stroke="#000" stroke-width="0.35">75</text>
<text transform="translate(358.08,538.20) scale(0.9052,1.0000)" font-size="25.2" fill="#000" stroke="#000" stroke-width="0.35">70</text>
<text transform="translate(569.49,538.50) scale(0.9043,1.0000)" font-size="25.2" fill="#000" stroke="#000" stroke-width="0.35">540</text>
<text transform="translate(681.79,538.50) scale(0.9060,1.0000)" font-size="25.2" fill="#000" stroke="#000" stroke-width="0.35">535</text>
<text transform="translate(794.89,538.50) scale(0.9043,1.0000)" font-size="25.2" fill="#000" stroke="#000" stroke-width="0.35">530</text>
<text transform="translate(907.19,538.50) scale(0.9060,1.0000)" font-size="25.2" fill="#000" stroke="#000" stroke-width="0.35">525</text>
<text transform="translate(32.67,1061.00) scale(0.8888,1.0000)" font-size="25.2" fill="#000" stroke="#000" stroke-width="0.35">20</text>
<text transform="translate(555.52,1056.60) scale(0.8888,1.0000)" font-size="25.2" fill="#000" stroke="#000" stroke-width="0.35">20</text>
<text transform="translate(71.02,1061.00) scale(0.9160,1.0000)" font-size="25.2" fill="#000" stroke="#000" stroke-width="0.35">18</text>
<text transform="translate(594.36,1056.60) scale(0.9160,1.0000)" font-size="25.2" fill="#000" stroke="#000" stroke-width="0.35">18</text>
<text transform="translate(110.00,1061.00) scale(0.9164,1.0000)" font-size="25.2" fill="#000" stroke="#000" stroke-width="0.35">16</text>
<text transform="translate(633.83,1056.60) scale(0.9164,1.0000)" font-size="25.2" fill="#000" stroke="#000" stroke-width="0.35">16</text>
<text transform="translate(149.01,1061.00) scale(0.9031,1.0000)" font-size="25.2" fill="#000" stroke="#000" stroke-width="0.35">14</text>
<text transform="translate(673.33,1056.60) scale(0.9031,1.0000)" font-size="25.2" fill="#000" stroke="#000" stroke-width="0.35">14</text>
<text transform="translate(187.95,1061.00) scale(0.9223,1.0000)" font-size="25.2" fill="#000" stroke="#000" stroke-width="0.35">12</text>
<text transform="translate(712.76,1056.60) scale(0.9223,1.0000)" font-size="25.2" fill="#000" stroke="#000" stroke-width="0.35">12</text>
<text transform="translate(226.95,1061.00) scale(0.9119,1.0000)" font-size="25.2" fill="#000" stroke="#000" stroke-width="0.35">10</text>
<text transform="translate(752.25,1056.60) scale(0.9119,1.0000)" font-size="25.2" fill="#000" stroke="#000" stroke-width="0.35">10</text>
<text transform="translate(270.89,1061.00) scale(0.9224,1.0000)" font-size="25.2" fill="#000" stroke="#000" stroke-width="0.35">8</text>
<text transform="translate(796.50,1056.60) scale(0.9224,1.0000)" font-size="25.2" fill="#000" stroke="#000" stroke-width="0.35">8</text>
<text transform="translate(309.65,1061.00) scale(0.9380,1.0000)" font-size="25.2" fill="#000" stroke="#000" stroke-width="0.35">6</text>
<text transform="translate(835.79,1056.60) scale(0.9380,1.0000)" font-size="25.2" fill="#000" stroke="#000" stroke-width="0.35">6</text>
<text transform="translate(349.30,1061.00) scale(0.8589,1.0000)" font-size="25.2" fill="#000" stroke="#000" stroke-width="0.35">4</text>
<text transform="translate(875.98,1056.60) scale(0.8589,1.0000)" font-size="25.2" fill="#000" stroke="#000" stroke-width="0.35">4</text>
<text transform="translate(387.55,1061.00) scale(0.9501,1.0000)" font-size="25.2" fill="#000" stroke="#000" stroke-width="0.35">2</text>
<text transform="translate(914.76,1056.60) scale(0.9501,1.0000)" font-size="25.2" fill="#000" stroke="#000" stroke-width="0.35">2</text>
<text transform="translate(426.81,1061.00) scale(0.9054,1.0000)" font-size="25.2" fill="#000" stroke="#000" stroke-width="0.35">0</text>
<text transform="translate(954.56,1056.60) scale(0.9054,1.0000)" font-size="25.2" fill="#000" stroke="#000" stroke-width="0.35">0</text>
<text transform="translate(64.22,399.90) scale(0.9719,1.0000)" font-size="18.4" fill="#000" stroke="#000" stroke-width="0.30">84 82 80 78 76 74</text>
<text transform="translate(582.72,398.70) scale(0.9502,1.0000)" font-size="17.8" fill="#000" stroke="#000" stroke-width="0.30">540</text>
<text transform="translate(620.21,398.70) scale(0.9712,1.0000)" font-size="17.8" fill="#000" stroke="#000" stroke-width="0.30">537</text>
<text transform="translate(657.83,398.70) scale(0.9409,1.0000)" font-size="17.8" fill="#000" stroke="#000" stroke-width="0.30">534</text>
<text transform="translate(695.31,398.70) scale(0.9667,1.0000)" font-size="17.8" fill="#000" stroke="#000" stroke-width="0.30">531</text>
<text transform="translate(86.93,265.70) scale(0.8817,1)" fill="#000" stroke="#000" stroke-width="0.00" xml:space="preserve"><tspan font-size="20.3" dy="0">E</tspan><tspan font-size="14" dy="4.5">g</tspan><tspan font-size="20.3" dy="-4.5">=6.5 eV</tspan></text>
<text transform="translate(599.33,271.90) scale(0.8817,1)" fill="#000" stroke="#000" stroke-width="0.00" xml:space="preserve"><tspan font-size="20.3" dy="0">E</tspan><tspan font-size="14" dy="4.5">g</tspan><tspan font-size="20.3" dy="-4.5">=6.5 eV</tspan></text>
<text transform="translate(322.86,193.20) scale(0.9005,1)" fill="#000" stroke="#000" stroke-width="0.30" xml:space="preserve"><tspan font-size="24.5" dy="0">Al</tspan><tspan font-size="17" dy="6.5">2</tspan><tspan font-size="24.5" dy="-6.5">O</tspan><tspan font-size="17" dy="6.5">3</tspan><tspan font-size="24.5" dy="-6.5"> (Al 2p)</tspan></text>
<text transform="translate(847.66,193.80) scale(0.8764,1)" fill="#000" stroke="#000" stroke-width="0.30" xml:space="preserve"><tspan font-size="24.5" dy="0">Al</tspan><tspan font-size="17" dy="6.5">2</tspan><tspan font-size="24.5" dy="-6.5">O</tspan><tspan font-size="17" dy="6.5">3</tspan><tspan font-size="24.5" dy="-6.5"> (O 1s)</tspan></text>
<text transform="translate(377.96,733.50) scale(0.8973,1)" fill="#000" stroke="#000" stroke-width="0.30" xml:space="preserve"><tspan font-size="24.5" dy="0">Al</tspan><tspan font-size="17" dy="6.5">2</tspan><tspan font-size="24.5" dy="-6.5">O</tspan><tspan font-size="17" dy="6.5">3</tspan></text>
<text transform="translate(911.01,731.80) scale(0.8361,1.0000)" font-size="24.5" fill="#000" stroke="#000" stroke-width="0.30">IGZO</text>
<text transform="translate(118.24,942.60) scale(0.9731,1.0000)" font-size="24.5" fill="#8dc800" stroke="#8dc800" stroke-width="0.00">Ecut-off</text>
<text transform="translate(118.50,975.40) scale(0.9105,1.0000)" font-size="24.5" fill="#8dc800" stroke="#8dc800" stroke-width="0.00">17.7 eV</text>
<text transform="translate(343.20,936.30) scale(0.9259,1.0000)" font-size="24.5" fill="#8dc800" stroke="#8dc800" stroke-width="0.00">VBM</text>
<text transform="translate(342.91,969.00) scale(0.9116,1.0000)" font-size="24.5" fill="#8dc800" stroke="#8dc800" stroke-width="0.00">5.88 eV</text>
<text transform="translate(674.45,961.00) scale(0.9707,1.0000)" font-size="24.5" fill="#ff0000" stroke="#ff0000" stroke-width="0.00">Ecut-off</text>
<text transform="translate(674.90,993.40) scale(0.9094,1.0000)" font-size="24.5" fill="#ff0000" stroke="#ff0000" stroke-width="0.00">16.13 eV</text>
<text transform="translate(896.20,923.70) scale(0.9240,1.0000)" font-size="24.5" fill="#ff0000" stroke="#ff0000" stroke-width="0.00">VBM</text>
<text transform="translate(895.63,956.50) scale(0.9326,1.0000)" font-size="24.5" fill="#ff0000" stroke="#ff0000" stroke-width="0.00">3.11 eV</text>
<text transform="translate(1139.27,141.00) scale(0.8714,1.0000)" font-size="37.3" fill="#000" stroke="#000" stroke-width="0.50">2.88 eV</text>
<text transform="translate(1422.25,297.90) scale(0.8777,1.0000)" font-size="37.3" fill="#000" stroke="#000" stroke-width="0.50">4.97 eV</text>
<text transform="translate(1266.47,412.80) scale(0.8702,1.0000)" font-size="37.3" fill="#000" stroke="#000" stroke-width="0.50">2.1 eV</text>
<text transform="translate(1093.05,700.10) scale(0.8695,1.0000)" font-size="37.3" fill="#000" stroke="#000" stroke-width="0.50">6.5 eV</text>
<text transform="translate(1481.76,725.20) scale(0.8722,1.0000)" font-size="37.3" fill="#000" stroke="#000" stroke-width="0.50">3.21 eV</text>
<text transform="translate(1334.53,836.50) scale(0.8940,1.0000)" font-size="37.3" fill="#000" stroke="#000" stroke-width="0.50">3.11 eV</text>
<text transform="translate(1006.96,109.00) scale(0.6660,1.0000)" font-size="41" fill="#000" stroke="#000" stroke-width="0.30">E</text>
<text transform="translate(1026.33,109.00) scale(0.8595,1.0000)" font-size="25" fill="#000" stroke="#000" stroke-width="0.30">vac</text>
<text transform="translate(1025.66,261.70) scale(0.6660,1.0000)" font-size="41" fill="#000" stroke="#000" stroke-width="0.30">E</text>
<text transform="translate(1044.78,261.70) scale(0.7566,1.0000)" font-size="24" fill="#000" stroke="#000" stroke-width="0.30">C</text>
<text transform="translate(1025.66,1094.00) scale(0.6660,1.0000)" font-size="41" fill="#000" stroke="#000" stroke-width="0.30">E</text>
<text transform="translate(1044.71,1094.00) scale(0.8419,1.0000)" font-size="24" fill="#000" stroke="#000" stroke-width="0.30">V</text>
<text transform="translate(1606.03,505.00) scale(0.6750,1.0000)" font-size="41" fill="#000" stroke="#000" stroke-width="0.30">E</text>
<text transform="translate(1624.80,505.00) scale(0.8224,1.0000)" font-size="24" fill="#000" stroke="#000" stroke-width="0.30">C</text>
<text transform="translate(1607.41,549.50) scale(0.6525,1.0000)" font-size="41" fill="#000" stroke="#000" stroke-width="0.30">E</text>
<text transform="translate(1626.56,549.50) scale(0.7331,1.0000)" font-size="24" fill="#000" stroke="#000" stroke-width="0.30">F</text>
<text transform="translate(1607.96,926.80) scale(0.6660,1.0000)" font-size="41" fill="#000" stroke="#000" stroke-width="0.30">E</text>
<text transform="translate(1627.11,926.80) scale(0.8546,1.0000)" font-size="24" fill="#000" stroke="#000" stroke-width="0.30">V</text>
<text transform="translate(1336.54,999.80) scale(0.7946,1.0000)" font-size="74.5" fill="#000" stroke="#000" stroke-width="0.00">IGZO</text>
<text transform="translate(1060.07,1164.70) scale(0.8889,1)" fill="#000" stroke="#000" stroke-width="0.00" xml:space="preserve"><tspan font-size="74" dy="0">Al</tspan><tspan font-size="56" dy="0">2</tspan><tspan font-size="74" dy="0">O</tspan><tspan font-size="56" dy="0">3</tspan></text>
</svg>
</body>
</html>
